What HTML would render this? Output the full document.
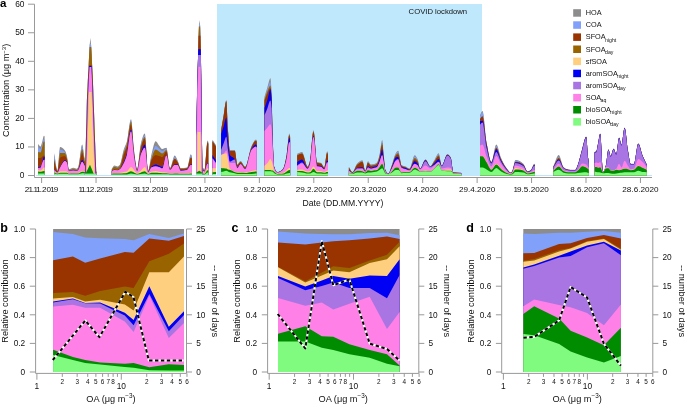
<!DOCTYPE html>
<html><head><meta charset="utf-8"><style>
html,body{margin:0;padding:0;background:#fff;}
body{width:685px;height:404px;position:relative;overflow:hidden;font-family:"Liberation Sans", sans-serif;}
svg text{font-family:"Liberation Sans", sans-serif;}
svg{will-change:transform;}
</style></head><body>
<svg width="685" height="404" viewBox="0 0 685 404" style="position:absolute;left:0;top:0">
<rect x="217" y="4" width="265" height="171.5" fill="#c0e8fc"/>
<rect x="38" y="175" width="614" height="1" fill="#bfe6f8"/>
<path d="M38.1,175.6 L38.1,144 C38.9,144.87 39.7,146.6 40.5,146.6 C41,146.6 41.5,144.01 42,142.5 C42.67,140.49 43.33,135.7 44,135.7 C44.2,135.7 44.4,136.23 44.6,136.5 L44.6,175.6 Z" fill="#8c8c8c"/>
<path d="M38.1,175.6 L38.1,146.6 C38.9,147.4 39.7,149 40.5,149 C41,149 41.5,146.42 42,145 C42.67,143.11 43.33,138.9 44,138.9 C44.2,138.9 44.4,139.3 44.6,139.5 L44.6,175.6 Z" fill="#80a0fa"/>
<path d="M38.1,175.6 L38.1,152 C38.9,152.2 39.7,152.6 40.5,152.6 C41,152.6 41.5,149.6 42,148 C42.67,145.87 43.33,141.3 44,141.3 C44.2,141.3 44.4,141.77 44.6,142 L44.6,175.6 Z" fill="#996300"/>
<path d="M38.1,175.6 L38.1,157.9 C38.9,157.93 39.7,158 40.5,158 C41,158 41.5,157.35 42,157 C42.67,156.53 43.33,155.5 44,155.5 C44.2,155.5 44.4,155.63 44.6,155.7 L44.6,175.6 Z" fill="#993300"/>
<path d="M38.1,175.6 L38.1,167.4 C38.9,167.2 39.7,167.19 40.5,166.8 C41,166.56 41.5,164.4 42,163 C42.67,161.14 43.33,156.7 44,156.7 C44.2,156.7 44.4,156.9 44.6,157 L44.6,175.6 Z" fill="#0000f5"/>
<path d="M38.1,175.6 L38.1,168 C38.9,167.83 39.7,167.83 40.5,167.5 C41,167.29 41.5,164.62 42,163.5 C42.67,162.01 43.33,159.7 44,159.7 C44.2,159.7 44.4,159.9 44.6,160 L44.6,175.6 Z" fill="#a875e3"/>
<path d="M38.1,175.6 L38.1,168 C38.9,168.2 39.7,168.6 40.5,168.6 C41,168.6 41.5,165.27 42,164 C42.67,162.3 43.33,159.7 44,159.7 C44.2,159.7 44.4,159.9 44.6,160 L44.6,175.6 Z" fill="#ff80e6"/>
<path d="M38.1,175.6 L38.1,169.8 C38.9,170 39.7,170.4 40.5,170.4 C41,170.4 41.5,169.88 42,169.5 C42.67,169 43.33,167.4 44,167.4 C44.2,167.4 44.4,167.47 44.6,167.5 L44.6,175.6 Z" fill="#ffcf80"/>
<path d="M38.1,175.6 L38.1,171.6 C38.9,171.67 39.7,171.8 40.5,171.8 C41,171.8 41.5,171.61 42,171.5 C42.67,171.35 43.33,171 44,171 C44.2,171 44.4,171 44.6,171 L44.6,175.6 Z" fill="#008c00"/>
<path d="M38.1,175.6 L38.1,173.5 C38.9,173.5 39.7,173.5 40.5,173.5 C41,173.5 41.5,173.5 42,173.5 C42.67,173.5 43.33,173.5 44,173.5 C44.2,173.5 44.4,173.5 44.6,173.5 L44.6,175.6 Z" fill="#80fb80"/>
<path d="M54.2,175.6 L54.2,152.9 C55.3,158.83 56.4,170.7 57.5,170.7 C58.37,170.7 59.23,147.1 60.1,147.1 C61.7,147.1 63.3,148.49 64.9,150.4 C65.57,151.2 66.23,153.19 66.9,155.8 C67.53,158.28 68.17,169.2 68.8,169.2 C70.3,169.2 71.8,167.7 73.3,167.7 C74.47,167.7 75.63,168.7 76.8,168.7 C77.3,168.7 77.8,167.69 78.3,166.7 C79.6,164.13 80.9,144.4 82.2,144.4 C83.03,144.4 83.87,156.48 84.7,158.3 C88.6,166.84 92.5,167.1 96.4,171.5 L96.4,175.6 Z" fill="#8c8c8c"/>
<path d="M54.2,175.6 L54.2,153.9 C55.3,159.6 56.4,171 57.5,171 C58.37,171 59.23,149.7 60.1,149.7 C61.7,149.7 63.3,150.53 64.9,151.9 C65.57,152.47 66.23,154.53 66.9,157 C67.53,159.35 68.17,169.7 68.8,169.7 C70.3,169.7 71.8,168.7 73.3,168.7 C74.47,168.7 75.63,169.4 76.8,169.4 C77.3,169.4 77.8,168.44 78.3,167.5 C79.6,165.05 80.9,145.9 82.2,145.9 C83.03,145.9 83.87,157.78 84.7,159.5 C88.6,167.55 92.5,167.7 96.4,171.8 L96.4,175.6 Z" fill="#80a0fa"/>
<path d="M54.2,175.6 L54.2,158.8 C55.3,162.93 56.4,171.2 57.5,171.2 C58.37,171.2 59.23,152.9 60.1,152.9 C61.7,152.9 63.3,152.9 64.9,152.9 C65.57,152.9 66.23,155.57 66.9,158 C67.53,160.31 68.17,170 68.8,170 C70.3,170 71.8,169 73.3,169 C74.47,169 75.63,169.7 76.8,169.7 C77.3,169.7 77.8,168.84 78.3,168 C79.6,165.81 80.9,148.9 82.2,148.9 C83.03,148.9 83.87,159.46 84.7,161 C88.6,168.19 92.5,168.33 96.4,172 L96.4,175.6 Z" fill="#996300"/>
<path d="M54.2,175.6 L54.2,160.8 C55.3,164.37 56.4,171.5 57.5,171.5 C58.37,171.5 59.23,158.36 60.1,157.8 C61.7,156.76 63.3,156.3 64.9,156.3 C65.57,156.3 66.23,157.81 66.9,159.5 C67.53,161.1 68.17,170.7 68.8,170.7 C70.3,170.7 71.8,170.2 73.3,170.2 C74.47,170.2 75.63,170.6 76.8,170.6 C77.3,170.6 77.8,170.07 78.3,169.5 C79.6,168.03 80.9,152.9 82.2,152.9 C83.03,152.9 83.87,161.17 84.7,162.5 C88.6,168.73 92.5,169.03 96.4,172.3 L96.4,175.6 Z" fill="#993300"/>
<path d="M54.2,175.6 L54.2,169.7 C55.3,170.57 56.4,172.3 57.5,172.3 C58.37,172.3 59.23,168.66 60.1,167.2 C61.7,164.5 63.3,160.3 64.9,160.3 C65.57,160.3 66.23,161.03 66.9,162 C67.53,162.92 68.17,171 68.8,171 C70.3,171 71.8,170.5 73.3,170.5 C74.47,170.5 75.63,170.9 76.8,170.9 C77.3,170.9 77.8,170.45 78.3,170 C79.6,168.84 80.9,159.8 82.2,159.8 C83.03,159.8 83.87,164.07 84.7,165 C88.6,169.35 92.5,170.07 96.4,172.6 L96.4,175.6 Z" fill="#0000f5"/>
<path d="M54.2,175.6 L54.2,169.9 C55.3,170.73 56.4,172.4 57.5,172.4 C58.37,172.4 59.23,169.08 60.1,167.7 C61.7,165.15 63.3,161 64.9,161 C65.57,161 66.23,161.64 66.9,162.5 C67.53,163.32 68.17,171.1 68.8,171.1 C70.3,171.1 71.8,170.6 73.3,170.6 C74.47,170.6 75.63,171 76.8,171 C77.3,171 77.8,170.59 78.3,170.2 C79.6,169.18 80.9,161.8 82.2,161.8 C83.03,161.8 83.87,164.7 84.7,165.5 C88.6,169.25 92.5,170.37 96.4,172.8 L96.4,175.6 Z" fill="#a875e3"/>
<path d="M54.2,175.6 L54.2,170 C55.3,170.83 56.4,172.5 57.5,172.5 C58.37,172.5 59.23,169.1 60.1,167.7 C61.7,165.12 63.3,161 64.9,161 C65.57,161 66.23,161.8 66.9,162.8 C67.53,163.75 68.17,171.2 68.8,171.2 C70.3,171.2 71.8,170.7 73.3,170.7 C74.47,170.7 75.63,171 76.8,171 C77.3,171 77.8,170.65 78.3,170.3 C79.6,169.39 80.9,161.8 82.2,161.8 C83.03,161.8 83.87,165.18 84.7,166 C88.6,169.83 92.5,170.67 96.4,173 L96.4,175.6 Z" fill="#ff80e6"/>
<path d="M54.2,175.6 L54.2,171.7 C55.3,172.23 56.4,173.3 57.5,173.3 C58.37,173.3 59.23,171.2 60.1,171.2 C61.7,171.2 63.3,171.2 64.9,171.2 C65.57,171.2 66.23,171.32 66.9,171.5 C67.53,171.67 68.17,173.5 68.8,173.5 C70.3,173.5 71.8,173.2 73.3,173.2 C74.47,173.2 75.63,173.2 76.8,173.2 C77.3,173.2 77.8,173.1 78.3,173 C79.6,172.74 80.9,170.7 82.2,170.7 C83.03,170.7 83.87,170.88 84.7,171 C88.6,171.57 92.5,172.67 96.4,173.5 L96.4,175.6 Z" fill="#ffcf80"/>
<path d="M54.2,175.6 L54.2,172.5 C55.3,172.87 56.4,173.6 57.5,173.6 C58.37,173.6 59.23,172.7 60.1,172.7 C61.7,172.7 63.3,172.7 64.9,172.7 C65.57,172.7 66.23,172.74 66.9,172.8 C67.53,172.86 68.17,173.8 68.8,173.8 C70.3,173.8 71.8,173.6 73.3,173.6 C74.47,173.6 75.63,173.6 76.8,173.6 C77.3,173.6 77.8,173.55 78.3,173.5 C79.6,173.36 80.9,171.7 82.2,171.7 C83.03,171.7 83.87,171.89 84.7,172 C88.6,172.53 92.5,173.33 96.4,174 L96.4,175.6 Z" fill="#008c00"/>
<path d="M54.2,175.6 L54.2,173.5 C55.3,173.73 56.4,174.2 57.5,174.2 C58.37,174.2 59.23,173.7 60.1,173.7 C61.7,173.7 63.3,173.7 64.9,173.7 C65.57,173.7 66.23,173.7 66.9,173.7 C67.53,173.7 68.17,174.2 68.8,174.2 C70.3,174.2 71.8,174.2 73.3,174.2 C74.47,174.2 75.63,174.2 76.8,174.2 C77.3,174.2 77.8,174.2 78.3,174.2 C79.6,174.2 80.9,173.2 82.2,173.2 C83.03,173.2 83.87,173.41 84.7,173.5 C88.6,173.9 92.5,174.17 96.4,174.5 L96.4,175.6 Z" fill="#80fb80"/>
<path d="M111.8,175.6 L111.8,168.7 C112.7,167.67 113.6,165.6 114.5,165.6 C115.53,165.6 116.57,166.4 117.6,166.4 C118.37,166.4 119.13,165.65 119.9,164.8 C121.2,163.35 122.5,153.48 123.8,149.5 C124.83,146.33 125.87,145.13 126.9,141.6 C128.27,136.93 129.63,119.2 131,119.2 C132,119.2 133,142.5 134,150 C135.07,158 136.13,168.8 137.2,168.8 C138.47,168.8 139.73,147.63 141,143 C142.27,138.37 143.53,133.5 144.8,133.5 C145.93,133.5 147.07,170.5 148.2,170.5 C149.33,170.5 150.47,158.1 151.6,153.8 C152.97,148.62 154.33,141.3 155.7,141.3 C156.8,141.3 157.9,144.23 159,145.5 C160.1,146.77 161.2,149 162.3,149 C163.67,149 165.03,147.8 166.4,147.8 C167.6,147.8 168.8,168 170,168 C171.57,168 173.13,155.5 174.7,155.5 C175.67,155.5 176.63,158.47 177.6,160.4 C178.63,162.46 179.67,168 180.7,168 C182.87,168 185.03,167.83 187.2,167.4 C188.4,167.16 189.6,154.3 190.8,154.3 C191.17,154.3 191.53,155.43 191.9,156 L191.9,175.6 Z" fill="#8c8c8c"/>
<path d="M111.8,175.6 L111.8,169.2 C112.7,168.2 113.6,166.2 114.5,166.2 C115.53,166.2 116.57,167 117.6,167 C118.37,167 119.13,166.3 119.9,165.5 C121.2,164.14 122.5,154.93 123.8,151 C124.83,147.87 125.87,146.57 126.9,143 C128.27,138.27 129.63,120.4 131,120.4 C132,120.4 133,143.67 134,151 C135.07,158.81 136.13,169.2 137.2,169.2 C138.47,169.2 139.73,149 141,144.5 C142.27,140 143.53,135.2 144.8,135.2 C145.93,135.2 147.07,170.8 148.2,170.8 C149.33,170.8 150.47,159.57 151.6,156 C152.97,151.69 154.33,146 155.7,146 C156.8,146 157.9,147.67 159,148.5 C160.1,149.33 161.2,151 162.3,151 C163.67,151 165.03,149 166.4,149 C167.6,149 168.8,168.3 170,168.3 C171.57,168.3 173.13,156.7 174.7,156.7 C175.67,156.7 176.63,159.5 177.6,161.3 C178.63,163.22 179.67,168.3 180.7,168.3 C182.87,168.3 185.03,168.16 187.2,167.8 C188.4,167.6 189.6,155 190.8,155 C191.17,155 191.53,156.33 191.9,157 L191.9,175.6 Z" fill="#80a0fa"/>
<path d="M111.8,175.6 L111.8,169.5 C112.7,168.57 113.6,166.7 114.5,166.7 C115.53,166.7 116.57,167.5 117.6,167.5 C118.37,167.5 119.13,166.79 119.9,166 C121.2,164.65 122.5,156.32 123.8,152.5 C124.83,149.46 125.87,148.08 126.9,144.5 C128.27,139.77 129.63,121.8 131,121.8 C132,121.8 133,144.89 134,152 C135.07,159.58 136.13,169.5 137.2,169.5 C138.47,169.5 139.73,150.37 141,146 C142.27,141.63 143.53,136.9 144.8,136.9 C145.93,136.9 147.07,171 148.2,171 C149.33,171 150.47,161.05 151.6,158 C152.97,154.32 154.33,149.6 155.7,149.6 C156.8,149.6 157.9,150.85 159,151.5 C160.1,152.15 161.2,153.5 162.3,153.5 C163.67,153.5 165.03,150 166.4,150 C167.6,150 168.8,168.6 170,168.6 C171.57,168.6 173.13,158.5 174.7,158.5 C175.67,158.5 176.63,160.36 177.6,161.8 C178.63,163.34 179.67,168.6 180.7,168.6 C182.87,168.6 185.03,168.46 187.2,168.1 C188.4,167.9 189.6,157.3 190.8,157.3 C191.17,157.3 191.53,157.57 191.9,157.7 L191.9,175.6 Z" fill="#996300"/>
<path d="M111.8,175.6 L111.8,171 C112.7,170.5 113.6,169.5 114.5,169.5 C115.53,169.5 116.57,169.8 117.6,169.8 C118.37,169.8 119.13,169.2 119.9,168.5 C121.2,167.31 122.5,158.82 123.8,155 C124.83,151.96 125.87,150.54 126.9,147 C128.27,142.31 129.63,125 131,125 C132,125 133,146.66 134,153.5 C135.07,160.79 136.13,170.5 137.2,170.5 C138.47,170.5 139.73,152.29 141,148 C142.27,143.71 143.53,139 144.8,139 C145.93,139 147.07,171.5 148.2,171.5 C149.33,171.5 150.47,162.06 151.6,160 C152.97,157.51 154.33,155 155.7,155 C156.8,155 157.9,155.67 159,156 C160.1,156.33 161.2,157 162.3,157 C163.67,157 165.03,151.5 166.4,151.5 C167.6,151.5 168.8,169.2 170,169.2 C171.57,169.2 173.13,159 174.7,159 C175.67,159 176.63,161.02 177.6,162.5 C178.63,164.08 179.67,169 180.7,169 C182.87,169 185.03,168.86 187.2,168.5 C188.4,168.3 189.6,158 190.8,158 C191.17,158 191.53,158.33 191.9,158.5 L191.9,175.6 Z" fill="#993300"/>
<path d="M111.8,175.6 L111.8,171.3 C112.7,170.8 113.6,169.8 114.5,169.8 C115.53,169.8 116.57,170.2 117.6,170.2 C118.37,170.2 119.13,169.59 119.9,169 C121.2,168 122.5,164.84 123.8,162 C124.83,159.74 125.87,157.28 126.9,153.5 C128.27,148.5 129.63,129.8 131,129.8 C132,129.8 133,149.88 134,156 C135.07,162.53 136.13,171 137.2,171 C138.47,171 139.73,156.85 141,153 C142.27,149.15 143.53,144.5 144.8,144.5 C145.93,144.5 147.07,172 148.2,172 C149.33,172 150.47,167.4 151.6,166.5 C152.97,165.42 154.33,164.4 155.7,164.4 C156.8,164.4 157.9,165.08 159,165.5 C160.1,165.92 161.2,167 162.3,167 C163.67,167 165.03,155 166.4,155 C167.6,155 168.8,169.8 170,169.8 C171.57,169.8 173.13,164.4 174.7,164.4 C175.67,164.4 176.63,164.44 177.6,164.5 C178.63,164.57 179.67,170.5 180.7,170.5 C182.87,170.5 185.03,170.15 187.2,169.5 C188.4,169.14 189.6,164.4 190.8,164.4 C191.17,164.4 191.53,164.47 191.9,164.5 L191.9,175.6 Z" fill="#0000f5"/>
<path d="M111.8,175.6 L111.8,171.4 C112.7,170.9 113.6,169.9 114.5,169.9 C115.53,169.9 116.57,170.3 117.6,170.3 C118.37,170.3 119.13,169.74 119.9,169.2 C121.2,168.29 122.5,165.58 123.8,163 C124.83,160.95 125.87,158.61 126.9,155 C128.27,150.22 129.63,131.5 131,131.5 C132,131.5 133,151.15 134,157 C135.07,163.24 136.13,171.2 137.2,171.2 C138.47,171.2 139.73,157.04 141,154 C142.27,150.96 143.53,147.8 144.8,147.8 C145.93,147.8 147.07,172.2 148.2,172.2 C149.33,172.2 150.47,167.82 151.6,167.3 C152.97,166.67 154.33,166.2 155.7,166.2 C156.8,166.2 157.9,166.66 159,167 C160.1,167.34 161.2,168.4 162.3,168.4 C163.67,168.4 165.03,155.4 166.4,155.4 C167.6,155.4 168.8,170 170,170 C171.57,170 173.13,165 174.7,165 C175.67,165 176.63,165 177.6,165 C178.63,165 179.67,170.8 180.7,170.8 C182.87,170.8 185.03,170.45 187.2,169.8 C188.4,169.44 189.6,165 190.8,165 C191.17,165 191.53,165 191.9,165 L191.9,175.6 Z" fill="#a875e3"/>
<path d="M111.8,175.6 L111.8,171.5 C112.7,171 113.6,170 114.5,170 C115.53,170 116.57,170.4 117.6,170.4 C118.37,170.4 119.13,169.83 119.9,169.3 C121.2,168.4 122.5,165.9 123.8,163.4 C124.83,161.41 125.87,159.03 126.9,155.4 C128.27,150.6 129.63,131.5 131,131.5 C132,131.5 133,151.12 134,157 C135.07,163.27 136.13,171.3 137.2,171.3 C138.47,171.3 139.73,157.69 141,154.5 C142.27,151.31 143.53,147.8 144.8,147.8 C145.93,147.8 147.07,172.3 148.2,172.3 C149.33,172.3 150.47,167.98 151.6,167.5 C152.97,166.92 154.33,166.5 155.7,166.5 C156.8,166.5 157.9,166.97 159,167.3 C160.1,167.63 161.2,168.6 162.3,168.6 C163.67,168.6 165.03,155.5 166.4,155.5 C167.6,155.5 168.8,170 170,170 C171.57,170 173.13,165 174.7,165 C175.67,165 176.63,165 177.6,165 C178.63,165 179.67,170.9 180.7,170.9 C182.87,170.9 185.03,170.55 187.2,169.9 C188.4,169.54 189.6,165 190.8,165 C191.17,165 191.53,165.2 191.9,165.3 L191.9,175.6 Z" fill="#ff80e6"/>
<path d="M111.8,175.6 L111.8,173 C112.7,172.97 113.6,172.9 114.5,172.9 C115.53,172.9 116.57,173 117.6,173 C118.37,173 119.13,172.89 119.9,172.8 C121.2,172.65 122.5,172.23 123.8,172 C124.83,171.81 125.87,171.78 126.9,171.5 C128.27,171.13 129.63,167.1 131,167.1 C132,167.1 133,169.05 134,170 C135.07,171.02 136.13,173 137.2,173 C138.47,173 139.73,171.46 141,170.5 C142.27,169.54 143.53,167.1 144.8,167.1 C145.93,167.1 147.07,173.5 148.2,173.5 C149.33,173.5 150.47,171.73 151.6,171.5 C152.97,171.22 154.33,171 155.7,171 C156.8,171 157.9,171.59 159,171.8 C160.1,172.01 161.2,172.22 162.3,172.3 C163.67,172.4 165.03,172.39 166.4,172.5 C167.6,172.6 168.8,173.3 170,173.3 C171.57,173.3 173.13,173 174.7,173 C175.67,173 176.63,173 177.6,173 C178.63,173 179.67,173.3 180.7,173.3 C182.87,173.3 185.03,173.3 187.2,173.3 C188.4,173.3 189.6,172.8 190.8,172.8 C191.17,172.8 191.53,172.8 191.9,172.8 L191.9,175.6 Z" fill="#ffcf80"/>
<path d="M111.8,175.6 L111.8,173.8 C112.7,173.7 113.6,173.5 114.5,173.5 C115.53,173.5 116.57,173.5 117.6,173.5 C118.37,173.5 119.13,173.5 119.9,173.5 C121.2,173.5 122.5,173.39 123.8,173.3 C124.83,173.23 125.87,173.16 126.9,173 C128.27,172.79 129.63,171.3 131,171.3 C132,171.3 133,172.1 134,172.5 C135.07,172.93 136.13,173.8 137.2,173.8 C138.47,173.8 139.73,172.92 141,172.5 C142.27,172.08 143.53,171.3 144.8,171.3 C145.93,171.3 147.07,174 148.2,174 C149.33,174 150.47,172.8 151.6,172.8 C152.97,172.8 154.33,172.8 155.7,172.8 C156.8,172.8 157.9,172.93 159,173 C160.1,173.07 161.2,173.16 162.3,173.2 C163.67,173.25 165.03,173.24 166.4,173.3 C167.6,173.35 168.8,173.8 170,173.8 C171.57,173.8 173.13,173.5 174.7,173.5 C175.67,173.5 176.63,173.5 177.6,173.5 C178.63,173.5 179.67,173.8 180.7,173.8 C182.87,173.8 185.03,173.8 187.2,173.8 C188.4,173.8 189.6,173.5 190.8,173.5 C191.17,173.5 191.53,173.5 191.9,173.5 L191.9,175.6 Z" fill="#008c00"/>
<path d="M111.8,175.6 L111.8,174.5 C112.7,174.5 113.6,174.5 114.5,174.5 C115.53,174.5 116.57,174.5 117.6,174.5 C118.37,174.5 119.13,174.5 119.9,174.5 C121.2,174.5 122.5,174.5 123.8,174.5 C124.83,174.5 125.87,174.5 126.9,174.5 C128.27,174.5 129.63,173.5 131,173.5 C132,173.5 133,173.84 134,174 C135.07,174.17 136.13,174.5 137.2,174.5 C138.47,174.5 139.73,174.17 141,174 C142.27,173.83 143.53,173.5 144.8,173.5 C145.93,173.5 147.07,174.5 148.2,174.5 C149.33,174.5 150.47,174.3 151.6,174.3 C152.97,174.3 154.33,174.3 155.7,174.3 C156.8,174.3 157.9,174.3 159,174.3 C160.1,174.3 161.2,174.3 162.3,174.3 C163.67,174.3 165.03,174.3 166.4,174.3 C167.6,174.3 168.8,174.5 170,174.5 C171.57,174.5 173.13,174.5 174.7,174.5 C175.67,174.5 176.63,174.5 177.6,174.5 C178.63,174.5 179.67,174.5 180.7,174.5 C182.87,174.5 185.03,174.5 187.2,174.5 C188.4,174.5 189.6,174.5 190.8,174.5 C191.17,174.5 191.53,174.5 191.9,174.5 L191.9,175.6 Z" fill="#80fb80"/>
<path d="M196,175.6 L196,172 C198.4,170.67 200.8,168 203.2,168 C203.63,168 204.07,170.2 204.5,170.2 C205.53,170.2 206.57,140.5 207.6,140.5 C207.83,140.5 208.07,141.5 208.3,142 L208.3,175.6 Z" fill="#8c8c8c"/>
<path d="M196,175.6 L196,172.3 C198.4,171.03 200.8,168.5 203.2,168.5 C203.63,168.5 204.07,170.4 204.5,170.4 C205.53,170.4 206.57,141.2 207.6,141.2 C207.83,141.2 208.07,142.2 208.3,142.7 L208.3,175.6 Z" fill="#80a0fa"/>
<path d="M196,175.6 L196,172.5 C198.4,171.33 200.8,169 203.2,169 C203.63,169 204.07,170.6 204.5,170.6 C205.53,170.6 206.57,142 207.6,142 C207.83,142 208.07,143 208.3,143.5 L208.3,175.6 Z" fill="#996300"/>
<path d="M196,175.6 L196,172.7 C198.4,171.8 200.8,170 203.2,170 C203.63,170 204.07,171.2 204.5,171.2 C205.53,171.2 206.57,142.5 207.6,142.5 C207.83,142.5 208.07,143.5 208.3,144 L208.3,175.6 Z" fill="#993300"/>
<path d="M196,175.6 L196,173 C198.4,172.17 200.8,170.5 203.2,170.5 C203.63,170.5 204.07,171.5 204.5,171.5 C205.53,171.5 206.57,163 207.6,163 C207.83,163 208.07,163.33 208.3,163.5 L208.3,175.6 Z" fill="#0000f5"/>
<path d="M196,175.6 L196,173.1 C198.4,172.33 200.8,170.8 203.2,170.8 C203.63,170.8 204.07,171.6 204.5,171.6 C205.53,171.6 206.57,163.5 207.6,163.5 C207.83,163.5 208.07,163.83 208.3,164 L208.3,175.6 Z" fill="#a875e3"/>
<path d="M196,175.6 L196,173.2 C198.4,172.47 200.8,171 203.2,171 C203.63,171 204.07,171.7 204.5,171.7 C205.53,171.7 206.57,163.8 207.6,163.8 C207.83,163.8 208.07,164.13 208.3,164.3 L208.3,175.6 Z" fill="#ff80e6"/>
<path d="M196,175.6 L196,173.8 C198.4,173.37 200.8,172.5 203.2,172.5 C203.63,172.5 204.07,173 204.5,173 C205.53,173 206.57,168.2 207.6,168.2 C207.83,168.2 208.07,168.4 208.3,168.5 L208.3,175.6 Z" fill="#ffcf80"/>
<path d="M196,175.6 L196,174.2 C198.4,173.97 200.8,173.5 203.2,173.5 C203.63,173.5 204.07,173.8 204.5,173.8 C205.53,173.8 206.57,170.2 207.6,170.2 C207.83,170.2 208.07,170.4 208.3,170.5 L208.3,175.6 Z" fill="#008c00"/>
<path d="M196,175.6 L196,174.6 C198.4,174.57 200.8,174.5 203.2,174.5 C203.63,174.5 204.07,174.5 204.5,174.5 C205.53,174.5 206.57,172.5 207.6,172.5 C207.83,172.5 208.07,172.5 208.3,172.5 L208.3,175.6 Z" fill="#80fb80"/>
<path d="M212.5,175.6 L212.5,139.7 L216,145.3 L216,175.6 Z" fill="#8c8c8c"/>
<path d="M212.5,175.6 L212.5,140.5 L216,146 L216,175.6 Z" fill="#80a0fa"/>
<path d="M212.5,175.6 L212.5,141 L216,146.5 L216,175.6 Z" fill="#996300"/>
<path d="M212.5,175.6 L212.5,141.4 L216,147 L216,175.6 Z" fill="#993300"/>
<path d="M212.5,175.6 L212.5,155 L216,160.4 L216,175.6 Z" fill="#0000f5"/>
<path d="M212.5,175.6 L212.5,158 L216,163 L216,175.6 Z" fill="#a875e3"/>
<path d="M212.5,175.6 L212.5,158.5 L216,163.5 L216,175.6 Z" fill="#ff80e6"/>
<path d="M212.5,175.6 L212.5,168.2 L216,168.2 L216,175.6 Z" fill="#ffcf80"/>
<path d="M212.5,175.6 L212.5,172.2 L216,172 L216,175.6 Z" fill="#008c00"/>
<path d="M212.5,175.6 L212.5,174 L216,174 L216,175.6 Z" fill="#80fb80"/>
<path d="M221.1,175.6 L221.1,129.7 C222,124.47 222.9,119.11 223.8,114 C224.63,109.26 225.47,100.1 226.3,100.1 C226.87,100.1 227.43,122.29 228,130 C228.6,138.16 229.2,149.9 229.8,149.9 C231.43,149.9 233.07,149.9 234.7,149.9 C235.6,149.9 236.5,164.4 237.4,164.4 C238.43,164.4 239.47,161 240.5,161 C242.07,161 243.63,166.6 245.2,166.6 C247.37,166.6 249.53,150.1 251.7,145.8 C253.13,142.96 254.57,139.4 256,139.4 C256.23,139.4 256.47,140.13 256.7,140.5 L256.7,175.6 Z" fill="#8c8c8c"/>
<path d="M221.1,175.6 L221.1,130 C222,124.83 222.9,119.6 223.8,114.5 C224.63,109.78 225.47,100.5 226.3,100.5 C226.87,100.5 227.43,122.8 228,130.5 C228.6,138.65 229.2,150.3 229.8,150.3 C231.43,150.3 233.07,150.3 234.7,150.3 C235.6,150.3 236.5,164.7 237.4,164.7 C238.43,164.7 239.47,161.4 240.5,161.4 C242.07,161.4 243.63,166.8 245.2,166.8 C247.37,166.8 249.53,150.48 251.7,146.3 C253.13,143.53 254.57,140.1 256,140.1 C256.23,140.1 256.47,140.83 256.7,141.2 L256.7,175.6 Z" fill="#80a0fa"/>
<path d="M221.1,175.6 L221.1,130.5 C222,125.33 222.9,120.1 223.8,115 C224.63,110.28 225.47,101 226.3,101 C226.87,101 227.43,123.33 228,131 C228.6,139.12 229.2,150.7 229.8,150.7 C231.43,150.7 233.07,150.7 234.7,150.7 C235.6,150.7 236.5,165 237.4,165 C238.43,165 239.47,161.8 240.5,161.8 C242.07,161.8 243.63,167 245.2,167 C247.37,167 249.53,151.01 251.7,146.8 C253.13,144.01 254.57,140.5 256,140.5 C256.23,140.5 256.47,141.23 256.7,141.6 L256.7,175.6 Z" fill="#996300"/>
<path d="M221.1,175.6 L221.1,131 C222,125.83 222.9,120.6 223.8,115.5 C224.63,110.78 225.47,101.5 226.3,101.5 C226.87,101.5 227.43,123.88 228,131.5 C228.6,139.57 229.2,151 229.8,151 C231.43,151 233.07,151 234.7,151 C235.6,151 236.5,165.3 237.4,165.3 C238.43,165.3 239.47,162.2 240.5,162.2 C242.07,162.2 243.63,167.2 245.2,167.2 C247.37,167.2 249.53,151.16 251.7,147 C253.13,144.25 254.57,140.8 256,140.8 C256.23,140.8 256.47,141.6 256.7,142 L256.7,175.6 Z" fill="#993300"/>
<path d="M221.1,175.6 L221.1,133.9 C222,131.27 222.9,128.82 223.8,126 C224.63,123.39 225.47,117.6 226.3,117.6 C226.87,117.6 227.43,134.27 228,140 C228.6,146.06 229.2,153.64 229.8,154.7 C231.43,157.6 233.07,156.56 234.7,158.9 C235.6,160.19 236.5,167.5 237.4,167.5 C238.43,167.5 239.47,163.7 240.5,163.7 C242.07,163.7 243.63,168.7 245.2,168.7 C247.37,168.7 249.53,151.86 251.7,148.7 C253.13,146.61 254.57,144.4 256,144.4 C256.23,144.4 256.47,145.13 256.7,145.5 L256.7,175.6 Z" fill="#0000f5"/>
<path d="M221.1,175.6 L221.1,149.9 C222,147.6 222.9,145.28 223.8,143 C224.63,140.89 225.47,136.7 226.3,136.7 C226.87,136.7 227.43,145.97 228,150 C228.6,154.26 229.2,161.7 229.8,161.7 C231.43,161.7 233.07,159.6 234.7,159.6 C235.6,159.6 236.5,168 237.4,168 C238.43,168 239.47,164 240.5,164 C242.07,164 243.63,169 245.2,169 C247.37,169 249.53,151.85 251.7,149.5 C253.13,147.94 254.57,146.5 256,146.5 C256.23,146.5 256.47,147.17 256.7,147.5 L256.7,175.6 Z" fill="#a875e3"/>
<path d="M221.1,175.6 L221.1,154.7 C222,154.3 222.9,154.09 223.8,153.5 C224.63,152.96 225.47,150.5 226.3,150.5 C226.87,150.5 227.43,153.12 228,155 C228.6,156.99 229.2,163 229.8,163 C231.43,163 233.07,163 234.7,163 C235.6,163 236.5,168.3 237.4,168.3 C238.43,168.3 239.47,164.2 240.5,164.2 C242.07,164.2 243.63,169.2 245.2,169.2 C247.37,169.2 249.53,152.48 251.7,150 C253.13,148.36 254.57,146.8 256,146.8 C256.23,146.8 256.47,147.47 256.7,147.8 L256.7,175.6 Z" fill="#ff80e6"/>
<path d="M221.1,175.6 L221.1,155 C222,154.67 222.9,154.29 223.8,154 C224.63,153.73 225.47,153.3 226.3,153.3 C226.87,153.3 227.43,157.55 228,160 C228.6,162.59 229.2,167.9 229.8,168.6 C231.43,170.5 233.07,170.9 234.7,171.4 C235.6,171.68 236.5,172 237.4,172 C238.43,172 239.47,172 240.5,172 C242.07,172 243.63,172.5 245.2,172.5 C247.37,172.5 249.53,171.44 251.7,171 C253.13,170.71 254.57,170.2 256,170.2 C256.23,170.2 256.47,170.2 256.7,170.2 L256.7,175.6 Z" fill="#ffcf80"/>
<path d="M221.1,175.6 L221.1,167.9 C222,168.03 222.9,168.18 223.8,168.3 C224.63,168.41 225.47,168.43 226.3,168.6 C226.87,168.72 227.43,169.36 228,169.5 C228.6,169.65 229.2,169.66 229.8,169.8 C231.43,170.17 233.07,171.43 234.7,172 C235.6,172.32 236.5,172.8 237.4,172.8 C238.43,172.8 239.47,172.8 240.5,172.8 C242.07,172.8 243.63,173 245.2,173 C247.37,173 249.53,172.28 251.7,172 C253.13,171.81 254.57,171.5 256,171.5 C256.23,171.5 256.47,171.5 256.7,171.5 L256.7,175.6 Z" fill="#008c00"/>
<path d="M221.1,175.6 L221.1,172.1 C222,171.9 222.9,171.74 223.8,171.5 C224.63,171.28 225.47,170.7 226.3,170.7 C226.87,170.7 227.43,171.24 228,171.5 C228.6,171.77 229.2,172.12 229.8,172.3 C231.43,172.78 233.07,172.92 234.7,173.3 C235.6,173.51 236.5,174 237.4,174 C238.43,174 239.47,174 240.5,174 C242.07,174 243.63,174 245.2,174 C247.37,174 249.53,174 251.7,174 C253.13,174 254.57,173.5 256,173.5 C256.23,173.5 256.47,173.5 256.7,173.5 L256.7,175.6 Z" fill="#80fb80"/>
<path d="M264.5,175.6 L264.5,96.8 C265.5,93.53 266.5,90.15 267.5,87 C268.47,83.96 269.43,78.2 270.4,78.2 C270.8,78.2 271.2,84.88 271.6,92 C272,99.12 272.4,127.74 272.8,139.1 C273.2,150.46 273.6,164.24 274,165.8 C275.13,170.22 276.27,172 277.4,172 C278.27,172 279.13,171.66 280,171.3 C281.13,170.83 282.27,169.79 283.4,168 C284.53,166.21 285.67,160.07 286.8,153.7 C287.63,149.01 288.47,133.5 289.3,133.5 C289.57,133.5 289.83,135.17 290.1,136 L290.1,175.6 Z" fill="#8c8c8c"/>
<path d="M264.5,175.6 L264.5,98.5 C265.5,95.33 266.5,91.74 267.5,89 C268.47,86.35 269.43,82 270.4,82 C270.8,82 271.2,87.67 271.6,94 C272,100.33 272.4,128.34 272.8,139.5 C273.2,150.66 273.6,164.46 274,166 C275.13,170.35 276.27,172.1 277.4,172.1 C278.27,172.1 279.13,171.75 280,171.4 C281.13,170.94 282.27,169.94 283.4,168.2 C284.53,166.46 285.67,160.46 286.8,154.2 C287.63,149.59 288.47,134.2 289.3,134.2 C289.57,134.2 289.83,135.87 290.1,136.7 L290.1,175.6 Z" fill="#80a0fa"/>
<path d="M264.5,175.6 L264.5,99.5 C265.5,96.67 266.5,93.24 267.5,91 C268.47,88.83 269.43,85.6 270.4,85.6 C270.8,85.6 271.2,90.39 271.6,96 C272,101.61 272.4,129.05 272.8,140 C273.2,150.95 273.6,164.69 274,166.2 C275.13,170.48 276.27,172.2 277.4,172.2 C278.27,172.2 279.13,171.85 280,171.5 C281.13,171.04 282.27,170.09 283.4,168.4 C284.53,166.71 285.67,160.78 286.8,154.6 C287.63,150.05 288.47,134.8 289.3,134.8 C289.57,134.8 289.83,136.47 290.1,137.3 L290.1,175.6 Z" fill="#996300"/>
<path d="M264.5,175.6 L264.5,100.5 C265.5,98.17 266.5,95.59 267.5,93.5 C268.47,91.48 269.43,88 270.4,88 C270.8,88 271.2,92.31 271.6,97.5 C272,102.69 272.4,129.72 272.8,140.5 C273.2,151.28 273.6,164.91 274,166.4 C275.13,170.61 276.27,172.3 277.4,172.3 C278.27,172.3 279.13,171.95 280,171.6 C281.13,171.14 282.27,170.24 283.4,168.6 C284.53,166.96 285.67,161.13 286.8,155 C287.63,150.5 288.47,135.2 289.3,135.2 C289.57,135.2 289.83,136.87 290.1,137.7 L290.1,175.6 Z" fill="#993300"/>
<path d="M264.5,175.6 L264.5,107.9 C265.5,105.1 266.5,102.62 267.5,99.5 C268.47,96.48 269.43,89.3 270.4,89.3 C270.8,89.3 271.2,93.7 271.6,99 C272,104.3 272.4,132.7 272.8,143 C273.2,153.3 273.6,165.37 274,166.8 C275.13,170.85 276.27,172.5 277.4,172.5 C278.27,172.5 279.13,172.14 280,171.8 C281.13,171.35 282.27,170.51 283.4,169 C284.53,167.49 285.67,162.6 286.8,157 C287.63,152.89 288.47,137.7 289.3,137.7 C289.57,137.7 289.83,139.23 290.1,140 L290.1,175.6 Z" fill="#0000f5"/>
<path d="M264.5,175.6 L264.5,115.3 C265.5,112.87 266.5,110.51 267.5,108 C268.47,105.58 269.43,100.5 270.4,100.5 C270.8,100.5 271.2,103.81 271.6,108 C272,112.19 272.4,138.13 272.8,147 C273.2,155.87 273.6,165.86 274,167.2 C275.13,170.99 276.27,172.6 277.4,172.6 C278.27,172.6 279.13,172.24 280,171.9 C281.13,171.46 282.27,170.71 283.4,169.3 C284.53,167.89 285.67,163.05 286.8,158 C287.63,154.29 288.47,141.9 289.3,141.9 C289.57,141.9 289.83,143.3 290.1,144 L290.1,175.6 Z" fill="#a875e3"/>
<path d="M264.5,175.6 L264.5,131.1 C265.5,129.9 266.5,128.67 267.5,127.5 C268.47,126.37 269.43,124.2 270.4,124.2 C270.8,124.2 271.2,125.84 271.6,128 C272,130.16 272.4,143.5 272.8,150 C273.2,156.5 273.6,166.23 274,167.5 C275.13,171.1 276.27,172.7 277.4,172.7 C278.27,172.7 279.13,172.33 280,172 C281.13,171.56 282.27,170.86 283.4,169.5 C284.53,168.14 285.67,163.51 286.8,158.5 C287.63,154.82 288.47,142 289.3,142 C289.57,142 289.83,143.47 290.1,144.2 L290.1,175.6 Z" fill="#ff80e6"/>
<path d="M264.5,175.6 L264.5,165.8 C265.5,164.87 266.5,164.13 267.5,163 C268.47,161.91 269.43,158.9 270.4,158.9 C270.8,158.9 271.2,160.08 271.6,161 C272,161.92 272.4,163.46 272.8,165 C273.2,166.54 273.6,169.84 274,170.5 C275.13,172.38 276.27,173.5 277.4,173.5 C278.27,173.5 279.13,173.39 280,173.3 C281.13,173.19 282.27,173.08 283.4,172.8 C284.53,172.52 285.67,170.92 286.8,170 C287.63,169.32 288.47,168 289.3,168 C289.57,168 289.83,168 290.1,168 L290.1,175.6 Z" fill="#ffcf80"/>
<path d="M264.5,175.6 L264.5,170 C265.5,170 266.5,170 267.5,170 C268.47,170 269.43,170 270.4,170 C270.8,170 271.2,170.5 271.6,170.5 C272,170.5 272.4,170.5 272.8,170.5 C273.2,170.5 273.6,171.19 274,171.5 C275.13,172.38 276.27,173.9 277.4,173.9 C278.27,173.9 279.13,173.85 280,173.8 C281.13,173.74 282.27,173.67 283.4,173.5 C284.53,173.33 285.67,172.17 286.8,171.5 C287.63,171 288.47,170 289.3,170 C289.57,170 289.83,170 290.1,170 L290.1,175.6 Z" fill="#008c00"/>
<path d="M264.5,175.6 L264.5,171.3 C265.5,171.3 266.5,171.3 267.5,171.3 C268.47,171.3 269.43,171.3 270.4,171.3 C270.8,171.3 271.2,171.42 271.6,171.5 C272,171.58 272.4,171.64 272.8,171.8 C273.2,171.96 273.6,172.74 274,173 C275.13,173.74 276.27,174.5 277.4,174.5 C278.27,174.5 279.13,174.5 280,174.5 C281.13,174.5 282.27,174.5 283.4,174.5 C284.53,174.5 285.67,173.77 286.8,173.5 C287.63,173.3 288.47,173 289.3,173 C289.57,173 289.83,173 290.1,173 L290.1,175.6 Z" fill="#80fb80"/>
<path d="M297.2,175.6 L297.2,153.7 C298.8,153.13 300.4,152 302,152 C303.9,152 305.8,166.4 307.7,166.4 C308.47,166.4 309.23,163.11 310,160 C311.17,155.27 312.33,130.2 313.5,130.2 C314.7,130.2 315.9,161.61 317.1,162.1 C318.4,162.63 319.7,162.43 321,162.9 C322.1,163.3 323.2,167.1 324.3,167.1 C325.27,167.1 326.23,151.2 327.2,151.2 C327.47,151.2 327.73,152.4 328,153 L328,175.6 Z" fill="#8c8c8c"/>
<path d="M297.2,175.6 L297.2,154.5 C298.8,153.93 300.4,152.8 302,152.8 C303.9,152.8 305.8,166.7 307.7,166.7 C308.47,166.7 309.23,163.59 310,160.6 C311.17,156.05 312.33,131 313.5,131 C314.7,131 315.9,162.01 317.1,162.5 C318.4,163.03 319.7,162.83 321,163.3 C322.1,163.7 323.2,167.4 324.3,167.4 C325.27,167.4 326.23,152 327.2,152 C327.47,152 327.73,153.2 328,153.8 L328,175.6 Z" fill="#80a0fa"/>
<path d="M297.2,175.6 L297.2,155 C298.8,154.43 300.4,153.3 302,153.3 C303.9,153.3 305.8,166.9 307.7,166.9 C308.47,166.9 309.23,163.91 310,161 C311.17,156.58 312.33,131.6 313.5,131.6 C314.7,131.6 315.9,162.37 317.1,162.8 C318.4,163.26 319.7,163.08 321,163.5 C322.1,163.85 323.2,167.6 324.3,167.6 C325.27,167.6 326.23,152.5 327.2,152.5 C327.47,152.5 327.73,153.7 328,154.3 L328,175.6 Z" fill="#996300"/>
<path d="M297.2,175.6 L297.2,155.4 C298.8,154.87 300.4,153.8 302,153.8 C303.9,153.8 305.8,167.2 307.7,167.2 C308.47,167.2 309.23,164.27 310,161.4 C311.17,157.04 312.33,132 313.5,132 C314.7,132 315.9,162.51 317.1,163 C318.4,163.53 319.7,163.33 321,163.8 C322.1,164.19 323.2,167.8 324.3,167.8 C325.27,167.8 326.23,153 327.2,153 C327.47,153 327.73,154.2 328,154.8 L328,175.6 Z" fill="#993300"/>
<path d="M297.2,175.6 L297.2,162.1 C298.8,161.23 300.4,159.5 302,159.5 C303.9,159.5 305.8,168.4 307.7,168.4 C308.47,168.4 309.23,165.97 310,163.5 C311.17,159.74 312.33,136 313.5,136 C314.7,136 315.9,165.19 317.1,165.5 C318.4,165.83 319.7,165.7 321,166 C322.1,166.25 323.2,169 324.3,169 C325.27,169 326.23,160.4 327.2,160.4 C327.47,160.4 327.73,160.8 328,161 L328,175.6 Z" fill="#0000f5"/>
<path d="M297.2,175.6 L297.2,165.5 C298.8,164.5 300.4,162.5 302,162.5 C303.9,162.5 305.8,168.8 307.7,168.8 C308.47,168.8 309.23,166.6 310,164.3 C311.17,160.8 312.33,137 313.5,137 C314.7,137 315.9,165.99 317.1,166.3 C318.4,166.63 319.7,166.51 321,166.8 C322.1,167.05 323.2,169.5 324.3,169.5 C325.27,169.5 326.23,162 327.2,162 C327.47,162 327.73,162.33 328,162.5 L328,175.6 Z" fill="#a875e3"/>
<path d="M297.2,175.6 L297.2,166 C298.8,165.17 300.4,163.5 302,163.5 C303.9,163.5 305.8,169 307.7,169 C308.47,169 309.23,166.8 310,164.5 C311.17,161 312.33,137.2 313.5,137.2 C314.7,137.2 315.9,166.19 317.1,166.5 C318.4,166.83 319.7,166.71 321,167 C322.1,167.25 323.2,169.6 324.3,169.6 C325.27,169.6 326.23,163 327.2,163 C327.47,163 327.73,163.33 328,163.5 L328,175.6 Z" fill="#ff80e6"/>
<path d="M297.2,175.6 L297.2,169.7 C298.8,169.63 300.4,169.5 302,169.5 C303.9,169.5 305.8,171.5 307.7,171.5 C308.47,171.5 309.23,171.27 310,171 C311.17,170.59 312.33,166.5 313.5,166.5 C314.7,166.5 315.9,171 317.1,171 C318.4,171 319.7,171 321,171 C322.1,171 323.2,172 324.3,172 C325.27,172 326.23,170.5 327.2,170.5 C327.47,170.5 327.73,170.5 328,170.5 L328,175.6 Z" fill="#ffcf80"/>
<path d="M297.2,175.6 L297.2,171 C298.8,171 300.4,171 302,171 C303.9,171 305.8,172.5 307.7,172.5 C308.47,172.5 309.23,172.42 310,172.3 C311.17,172.12 312.33,168.8 313.5,168.8 C314.7,168.8 315.9,172.3 317.1,172.3 C318.4,172.3 319.7,172.3 321,172.3 C322.1,172.3 323.2,172.8 324.3,172.8 C325.27,172.8 326.23,172 327.2,172 C327.47,172 327.73,172 328,172 L328,175.6 Z" fill="#008c00"/>
<path d="M297.2,175.6 L297.2,172 C298.8,172.17 300.4,172.29 302,172.5 C303.9,172.75 305.8,173.5 307.7,173.5 C308.47,173.5 309.23,173.5 310,173.5 C311.17,173.5 312.33,172 313.5,172 C314.7,172 315.9,173.5 317.1,173.5 C318.4,173.5 319.7,173.5 321,173.5 C322.1,173.5 323.2,173.8 324.3,173.8 C325.27,173.8 326.23,173.5 327.2,173.5 C327.47,173.5 327.73,173.5 328,173.5 L328,175.6 Z" fill="#80fb80"/>
<path d="M348.9,175.6 L348.9,166.8 C350.1,168.53 351.3,172 352.5,172 C354.07,172 355.63,164.98 357.2,163.5 C358.93,161.86 360.67,160.2 362.4,160.2 C363.33,160.2 364.27,170.6 365.2,170.6 C366.13,170.6 367.07,161.2 368,161.2 C368.97,161.2 369.93,164.5 370.9,164.5 C372,164.5 373.1,164.26 374.2,164 C375.13,163.78 376.07,163.41 377,162.6 C377.83,161.87 378.67,158.26 379.5,155 C380.4,151.48 381.3,140 382.2,140 C382.63,140 383.07,148.04 383.5,152 C384.17,158.1 384.83,168.65 385.5,170.1 C386.43,172.13 387.37,173.4 388.3,173.4 C389.53,173.4 390.77,167.78 392,164.5 C393.27,161.13 394.53,155.03 395.8,153.2 C396.6,152.05 397.4,150.8 398.2,150.8 C398.8,150.8 399.4,155.8 400,158.5 C400.47,160.6 400.93,164.74 401.4,165.1 C402.83,166.19 404.27,166.01 405.7,166.6 C406.97,167.12 408.23,168.5 409.5,168.5 C411.23,168.5 412.97,155.2 414.7,155.2 C415.67,155.2 416.63,157.09 417.6,159 C418.43,160.64 419.27,168.5 420.1,168.5 C421.87,168.5 423.63,159.4 425.4,159.4 C427.07,159.4 428.73,166.1 430.4,166.1 C431.67,166.1 432.93,162.35 434.2,160.4 C435.7,158.09 437.2,153.3 438.7,153.3 C439.7,153.3 440.7,165.6 441.7,165.6 C443.6,165.6 445.5,154.2 447.4,154.2 C448.53,154.2 449.67,155.42 450.8,157.6 C451.27,158.5 451.73,163.62 452.2,166.6 C452.5,168.51 452.8,172.26 453.1,172.3 C455.8,172.66 458.5,172.57 461.2,172.7 L461.2,175.6 Z" fill="#8c8c8c"/>
<path d="M348.9,175.6 L348.9,167.2 C350.1,168.87 351.3,172.2 352.5,172.2 C354.07,172.2 355.63,165.4 357.2,164 C358.93,162.45 360.67,160.9 362.4,160.9 C363.33,160.9 364.27,170.8 365.2,170.8 C366.13,170.8 367.07,161.8 368,161.8 C368.97,161.8 369.93,165 370.9,165 C372,165 373.1,164.76 374.2,164.5 C375.13,164.28 376.07,163.91 377,163.1 C377.83,162.38 378.67,158.93 379.5,155.8 C380.4,152.42 381.3,141.4 382.2,141.4 C382.63,141.4 383.07,149.19 383.5,153 C384.17,158.86 384.83,168.89 385.5,170.3 C386.43,172.27 387.37,173.5 388.3,173.5 C389.53,173.5 390.77,168.16 392,165 C393.27,161.76 394.53,155.7 395.8,154 C396.6,152.93 397.4,151.8 398.2,151.8 C398.8,151.8 399.4,156.45 400,159 C400.47,160.98 400.93,164.93 401.4,165.3 C402.83,166.45 404.27,166.29 405.7,166.9 C406.97,167.44 408.23,168.8 409.5,168.8 C411.23,168.8 412.97,156.5 414.7,156.5 C415.67,156.5 416.63,158.11 417.6,159.8 C418.43,161.26 419.27,168.7 420.1,168.7 C421.87,168.7 423.63,159.6 425.4,159.6 C427.07,159.6 428.73,166.3 430.4,166.3 C431.67,166.3 432.93,162.84 434.2,161 C435.7,158.83 437.2,154.2 438.7,154.2 C439.7,154.2 440.7,165.8 441.7,165.8 C443.6,165.8 445.5,154.4 447.4,154.4 C448.53,154.4 449.67,155.62 450.8,157.8 C451.27,158.7 451.73,163.85 452.2,166.8 C452.5,168.69 452.8,172.36 453.1,172.4 C455.8,172.76 458.5,172.67 461.2,172.8 L461.2,175.6 Z" fill="#80a0fa"/>
<path d="M348.9,175.6 L348.9,167.6 C350.1,169.17 351.3,172.3 352.5,172.3 C354.07,172.3 355.63,165.85 357.2,164.5 C358.93,163 360.67,161.5 362.4,161.5 C363.33,161.5 364.27,171 365.2,171 C366.13,171 367.07,162.5 368,162.5 C368.97,162.5 369.93,165.5 370.9,165.5 C372,165.5 373.1,165.26 374.2,165 C375.13,164.78 376.07,164.4 377,163.6 C377.83,162.88 378.67,159.51 379.5,156.5 C380.4,153.25 381.3,143 382.2,143 C382.63,143 383.07,150.38 383.5,154 C384.17,159.57 384.83,169.14 385.5,170.5 C386.43,172.4 387.37,173.6 388.3,173.6 C389.53,173.6 390.77,168.42 392,165.4 C393.27,162.3 394.53,156.56 395.8,155 C396.6,154.02 397.4,153 398.2,153 C398.8,153 399.4,157.44 400,159.8 C400.47,161.63 400.93,165.11 401.4,165.5 C402.83,166.7 404.27,166.58 405.7,167.2 C406.97,167.75 408.23,169 409.5,169 C411.23,169 412.97,158 414.7,158 C415.67,158 416.63,159.35 417.6,160.8 C418.43,162.05 419.27,168.8 420.1,168.8 C421.87,168.8 423.63,159.8 425.4,159.8 C427.07,159.8 428.73,166.4 430.4,166.4 C431.67,166.4 432.93,163.2 434.2,161.5 C435.7,159.49 437.2,155.2 438.7,155.2 C439.7,155.2 440.7,165.9 441.7,165.9 C443.6,165.9 445.5,154.6 447.4,154.6 C448.53,154.6 449.67,155.82 450.8,158 C451.27,158.9 451.73,163.97 452.2,166.9 C452.5,168.79 452.8,172.46 453.1,172.5 C455.8,172.86 458.5,172.77 461.2,172.9 L461.2,175.6 Z" fill="#996300"/>
<path d="M348.9,175.6 L348.9,168 C350.1,169.47 351.3,172.4 352.5,172.4 C354.07,172.4 355.63,166.33 357.2,165 C358.93,163.52 360.67,162 362.4,162 C363.33,162 364.27,171.2 365.2,171.2 C366.13,171.2 367.07,163 368,163 C368.97,163 369.93,166 370.9,166 C372,166 373.1,165.75 374.2,165.5 C375.13,165.28 376.07,164.95 377,164.2 C377.83,163.53 378.67,160.32 379.5,157.5 C380.4,154.46 381.3,145 382.2,145 C382.63,145 383.07,152.1 383.5,155.5 C384.17,160.73 384.83,169.39 385.5,170.7 C386.43,172.53 387.37,173.7 388.3,173.7 C389.53,173.7 390.77,168.68 392,165.8 C393.27,162.84 394.53,157.22 395.8,156 C396.6,155.23 397.4,154.5 398.2,154.5 C398.8,154.5 399.4,158.39 400,160.5 C400.47,162.14 400.93,165.29 401.4,165.7 C402.83,166.95 404.27,166.86 405.7,167.5 C406.97,168.06 408.23,169.3 409.5,169.3 C411.23,169.3 412.97,159.5 414.7,159.5 C415.67,159.5 416.63,160.58 417.6,161.8 C418.43,162.85 419.27,168.9 420.1,168.9 C421.87,168.9 423.63,160 425.4,160 C427.07,160 428.73,166.5 430.4,166.5 C431.67,166.5 432.93,163.52 434.2,162 C435.7,160.2 437.2,156.5 438.7,156.5 C439.7,156.5 440.7,166 441.7,166 C443.6,166 445.5,154.8 447.4,154.8 C448.53,154.8 449.67,156.03 450.8,158.2 C451.27,159.1 451.73,164.08 452.2,167 C452.5,168.88 452.8,172.56 453.1,172.6 C455.8,172.96 458.5,172.87 461.2,173 L461.2,175.6 Z" fill="#993300"/>
<path d="M348.9,175.6 L348.9,170.1 C350.1,171 351.3,172.8 352.5,172.8 C354.07,172.8 355.63,168.08 357.2,167.8 C358.93,167.49 360.67,167.3 362.4,167.3 C363.33,167.3 364.27,171.5 365.2,171.5 C366.13,171.5 367.07,166.3 368,166.3 C368.97,166.3 369.93,167.8 370.9,167.8 C372,167.8 373.1,167.12 374.2,166.8 C375.13,166.53 376.07,166.48 377,166 C377.83,165.57 378.67,162.47 379.5,160 C380.4,157.33 381.3,149.4 382.2,149.4 C382.63,149.4 383.07,155.16 383.5,158 C384.17,162.37 384.83,169.8 385.5,171 C386.43,172.69 387.37,173.8 388.3,173.8 C389.53,173.8 390.77,169.62 392,167 C393.27,164.31 394.53,157.77 395.8,157.4 C396.6,157.17 397.4,157 398.2,157 C398.8,157 399.4,161.98 400,163.7 C400.47,165.03 400.93,166.77 401.4,167 C402.83,167.7 404.27,167.54 405.7,168 C406.97,168.41 408.23,169.9 409.5,169.9 C411.23,169.9 412.97,161.3 414.7,161.3 C415.67,161.3 416.63,162.4 417.6,163.5 C418.43,164.45 419.27,169 420.1,169 C421.87,169 423.63,160.4 425.4,160.4 C427.07,160.4 428.73,166.6 430.4,166.6 C431.67,166.6 432.93,164.63 434.2,163.5 C435.7,162.16 437.2,159 438.7,159 C439.7,159 440.7,166.1 441.7,166.1 C443.6,166.1 445.5,155 447.4,155 C448.53,155 449.67,156.23 450.8,158.4 C451.27,159.3 451.73,164.31 452.2,167.2 C452.5,169.06 452.8,172.66 453.1,172.7 C455.8,173.06 458.5,172.97 461.2,173.1 L461.2,175.6 Z" fill="#0000f5"/>
<path d="M348.9,175.6 L348.9,170.5 C350.1,171.3 351.3,172.9 352.5,172.9 C354.07,172.9 355.63,168.36 357.2,168.3 C358.93,168.23 360.67,168.2 362.4,168.2 C363.33,168.2 364.27,171.6 365.2,171.6 C366.13,171.6 367.07,167.2 368,167.2 C368.97,167.2 369.93,168.5 370.9,168.5 C372,168.5 373.1,168.07 374.2,167.8 C375.13,167.57 376.07,167.47 377,167 C377.83,166.58 378.67,163.87 379.5,162 C380.4,159.98 381.3,155.1 382.2,155.1 C382.63,155.1 383.07,158.92 383.5,161 C384.17,164.2 384.83,170.21 385.5,171.3 C386.43,172.83 387.37,173.9 388.3,173.9 C389.53,173.9 390.77,170.21 392,168 C393.27,165.73 394.53,161.17 395.8,160.2 C396.6,159.58 397.4,159 398.2,159 C398.8,159 399.4,162.42 400,164 C400.47,165.23 400.93,167.17 401.4,167.5 C402.83,168.51 404.27,168.5 405.7,169 C406.97,169.44 408.23,170.3 409.5,170.3 C411.23,170.3 412.97,163.7 414.7,163.7 C415.67,163.7 416.63,164.43 417.6,165.2 C418.43,165.86 419.27,169.3 420.1,169.3 C421.87,169.3 423.63,161.2 425.4,161.2 C427.07,161.2 428.73,166.8 430.4,166.8 C431.67,166.8 432.93,165.72 434.2,165 C435.7,164.15 437.2,161.8 438.7,161.8 C439.7,161.8 440.7,166.3 441.7,166.3 C443.6,166.3 445.5,155.5 447.4,155.5 C448.53,155.5 449.67,156.68 450.8,158.8 C451.27,159.67 451.73,164.68 452.2,167.5 C452.5,169.31 452.8,172.76 453.1,172.8 C455.8,173.16 458.5,173.07 461.2,173.2 L461.2,175.6 Z" fill="#a875e3"/>
<path d="M348.9,175.6 L348.9,171 C350.1,171.67 351.3,173 352.5,173 C354.07,173 355.63,169.47 357.2,169.2 C358.93,168.9 360.67,168.7 362.4,168.7 C363.33,168.7 364.27,171.8 365.2,171.8 C366.13,171.8 367.07,168.2 368,168.2 C368.97,168.2 369.93,169.2 370.9,169.2 C372,169.2 373.1,168.5 374.2,168.2 C375.13,167.94 376.07,167.92 377,167.5 C377.83,167.12 378.67,164.38 379.5,162.5 C380.4,160.47 381.3,155.5 382.2,155.5 C382.63,155.5 383.07,159.43 383.5,161.5 C384.17,164.69 384.83,170.45 385.5,171.5 C386.43,172.97 387.37,174 388.3,174 C389.53,174 390.77,170.59 392,168.5 C393.27,166.35 394.53,161.83 395.8,161 C396.6,160.48 397.4,160 398.2,160 C398.8,160 399.4,163.22 400,164.7 C400.47,165.85 400.93,167.68 401.4,168 C402.83,169 404.27,169.07 405.7,169.5 C406.97,169.88 408.23,170.5 409.5,170.5 C411.23,170.5 412.97,164 414.7,164 C415.67,164 416.63,164.73 417.6,165.5 C418.43,166.16 419.27,169.5 420.1,169.5 C421.87,169.5 423.63,165.6 425.4,165.6 C427.07,165.6 428.73,168.5 430.4,168.5 C431.67,168.5 432.93,166.68 434.2,165.7 C435.7,164.54 437.2,162 438.7,162 C439.7,162 440.7,168.5 441.7,168.5 C443.6,168.5 445.5,167.5 447.4,167.5 C448.53,167.5 449.67,167.65 450.8,168 C451.27,168.14 451.73,169.42 452.2,170.5 C452.5,171.19 452.8,173.26 453.1,173.3 C455.8,173.65 458.5,173.57 461.2,173.7 L461.2,175.6 Z" fill="#ff80e6"/>
<path d="M348.9,175.6 L348.9,172.5 C350.1,172.8 351.3,173.4 352.5,173.4 C354.07,173.4 355.63,170.6 357.2,170.6 C358.93,170.6 360.67,170.75 362.4,171 C363.33,171.14 364.27,172.5 365.2,172.5 C366.13,172.5 367.07,170.1 368,170.1 C368.97,170.1 369.93,170.8 370.9,170.8 C372,170.8 373.1,170.26 374.2,170.1 C375.13,169.97 376.07,169.99 377,169.8 C377.83,169.63 378.67,168 379.5,167 C380.4,165.92 381.3,163.5 382.2,163.5 C382.63,163.5 383.07,165.38 383.5,166.5 C384.17,168.22 384.83,171.83 385.5,172.5 C386.43,173.43 387.37,174.1 388.3,174.1 C389.53,174.1 390.77,172.11 392,171 C393.27,169.86 394.53,167.3 395.8,167.3 C396.6,167.3 397.4,167.3 398.2,167.3 C398.8,167.3 399.4,169.49 400,170.4 C400.47,171.1 400.93,172.3 401.4,172.3 C402.83,172.3 404.27,171.8 405.7,171.8 C406.97,171.8 408.23,171.8 409.5,171.8 C411.23,171.8 412.97,167.5 414.7,167.5 C415.67,167.5 416.63,168.17 417.6,168.8 C418.43,169.34 419.27,171.6 420.1,171.6 C421.87,171.6 423.63,170.4 425.4,170.4 C427.07,170.4 428.73,171.3 430.4,171.3 C431.67,171.3 432.93,169.55 434.2,168.5 C435.7,167.26 437.2,164.2 438.7,164.2 C439.7,164.2 440.7,170.4 441.7,170.4 C443.6,170.4 445.5,169.4 447.4,169.4 C448.53,169.4 449.67,169.42 450.8,169.5 C451.27,169.53 451.73,170.5 452.2,171.3 C452.5,171.82 452.8,173.46 453.1,173.5 C455.8,173.85 458.5,173.77 461.2,173.9 L461.2,175.6 Z" fill="#ffcf80"/>
<path d="M348.9,175.6 L348.9,172.7 C350.1,172.97 351.3,173.5 352.5,173.5 C354.07,173.5 355.63,170.8 357.2,170.8 C358.93,170.8 360.67,170.95 362.4,171.2 C363.33,171.33 364.27,172.6 365.2,172.6 C366.13,172.6 367.07,170.3 368,170.3 C368.97,170.3 369.93,171 370.9,171 C372,171 373.1,170.46 374.2,170.3 C375.13,170.17 376.07,170.19 377,170 C377.83,169.83 378.67,168.2 379.5,167.2 C380.4,166.12 381.3,163.7 382.2,163.7 C382.63,163.7 383.07,165.58 383.5,166.7 C384.17,168.42 384.83,172.07 385.5,172.7 C386.43,173.58 387.37,174.2 388.3,174.2 C389.53,174.2 390.77,172.29 392,171.2 C393.27,170.08 394.53,167.5 395.8,167.5 C396.6,167.5 397.4,167.5 398.2,167.5 C398.8,167.5 399.4,169.69 400,170.6 C400.47,171.3 400.93,172.5 401.4,172.5 C402.83,172.5 404.27,172 405.7,172 C406.97,172 408.23,172 409.5,172 C411.23,172 412.97,167.7 414.7,167.7 C415.67,167.7 416.63,168.37 417.6,169 C418.43,169.54 419.27,171.8 420.1,171.8 C421.87,171.8 423.63,171.1 425.4,171.1 C427.07,171.1 428.73,171.5 430.4,171.5 C431.67,171.5 432.93,169.76 434.2,168.7 C435.7,167.44 437.2,164.3 438.7,164.3 C439.7,164.3 440.7,170.39 441.7,170.5 C443.6,170.72 445.5,170.8 447.4,170.8 C448.53,170.8 449.67,170.8 450.8,170.8 C451.27,170.8 451.73,171.16 452.2,171.6 C452.5,171.88 452.8,173.56 453.1,173.6 C455.8,173.95 458.5,173.87 461.2,174 L461.2,175.6 Z" fill="#008c00"/>
<path d="M348.9,175.6 L348.9,173.1 C350.1,173.37 351.3,173.9 352.5,173.9 C354.07,173.9 355.63,172.5 357.2,172.5 C358.93,172.5 360.67,172.5 362.4,172.5 C363.33,172.5 364.27,173.4 365.2,173.4 C366.13,173.4 367.07,172.5 368,172.5 C368.97,172.5 369.93,172.5 370.9,172.5 C372,172.5 373.1,172.18 374.2,172 C375.13,171.85 376.07,171.76 377,171.5 C377.83,171.27 378.67,170.53 379.5,170 C380.4,169.43 381.3,168.2 382.2,168.2 C382.63,168.2 383.07,169.34 383.5,170 C384.17,171.02 384.83,173.2 385.5,173.5 C386.43,173.93 387.37,174.2 388.3,174.2 C389.53,174.2 390.77,173.16 392,172.5 C393.27,171.83 394.53,170.1 395.8,170.1 C396.6,170.1 397.4,170.1 398.2,170.1 C398.8,170.1 399.4,170.76 400,171.3 C400.47,171.72 400.93,173.2 401.4,173.2 C402.83,173.2 404.27,172.7 405.7,172.7 C406.97,172.7 408.23,172.7 409.5,172.7 C411.23,172.7 412.97,169.4 414.7,169.4 C415.67,169.4 416.63,170.06 417.6,170.5 C418.43,170.88 419.27,171.9 420.1,171.9 C421.87,171.9 423.63,171.3 425.4,171.3 C427.07,171.3 428.73,171.8 430.4,171.8 C431.67,171.8 432.93,170.01 434.2,169 C435.7,167.81 437.2,165.1 438.7,165.1 C439.7,165.1 440.7,170.35 441.7,170.6 C443.6,171.08 445.5,171.3 447.4,171.3 C448.53,171.3 449.67,171.3 450.8,171.3 C451.27,171.3 451.73,171.61 452.2,172 C452.5,172.25 452.8,173.66 453.1,173.7 C455.8,174.05 458.5,173.97 461.2,174.1 L461.2,175.6 Z" fill="#80fb80"/>
<path d="M480,175.6 L480,115.2 C480.83,113.83 481.67,111.1 482.5,111.1 C483.87,111.1 485.23,135.23 486.6,142.5 C488.2,151.01 489.8,161.8 491.4,161.8 C493.03,161.8 494.67,144.4 496.3,144.4 C497.9,144.4 499.5,154.42 501.1,158 C503.03,162.33 504.97,166.11 506.9,168.6 C508.17,170.23 509.43,172.5 510.7,172.5 C511.3,172.5 511.9,171.48 512.5,170.5 C513.47,168.92 514.43,160.1 515.4,160.1 C516.4,160.1 517.4,160.24 518.4,160.4 C520.07,160.67 521.73,162.14 523.4,163.8 C524.8,165.2 526.2,171.3 527.6,171.3 C528.73,171.3 529.87,170.54 531,169.7 C532.13,168.86 533.27,163.8 534.4,163.8 C534.57,163.8 534.73,164.27 534.9,164.5 L534.9,175.6 Z" fill="#8c8c8c"/>
<path d="M480,175.6 L480,116 C480.83,114.73 481.67,112.2 482.5,112.2 C483.87,112.2 485.23,135.86 486.6,143 C488.2,151.36 489.8,162 491.4,162 C493.03,162 494.67,146 496.3,146 C497.9,146 499.5,155.43 501.1,158.8 C503.03,162.88 504.97,166.4 506.9,168.8 C508.17,170.37 509.43,172.6 510.7,172.6 C511.3,172.6 511.9,171.63 512.5,170.7 C513.47,169.2 514.43,160.8 515.4,160.8 C516.4,160.8 517.4,160.99 518.4,161.2 C520.07,161.55 521.73,162.76 523.4,164.3 C524.8,165.59 526.2,171.5 527.6,171.5 C528.73,171.5 529.87,170.79 531,170 C532.13,169.21 533.27,164.3 534.4,164.3 C534.57,164.3 534.73,164.77 534.9,165 L534.9,175.6 Z" fill="#80a0fa"/>
<path d="M480,175.6 L480,119 C480.83,118.1 481.67,116.3 482.5,116.3 C483.87,116.3 485.23,136.75 486.6,143.5 C488.2,151.41 489.8,162.2 491.4,162.2 C493.03,162.2 494.67,147.5 496.3,147.5 C497.9,147.5 499.5,156.1 501.1,159.3 C503.03,163.17 504.97,166.66 506.9,169 C508.17,170.53 509.43,172.7 510.7,172.7 C511.3,172.7 511.9,171.77 512.5,170.9 C513.47,169.49 514.43,161.8 515.4,161.8 C516.4,161.8 517.4,161.89 518.4,162 C520.07,162.19 521.73,163.39 523.4,164.8 C524.8,165.98 526.2,171.6 527.6,171.6 C528.73,171.6 529.87,170.95 531,170.2 C532.13,169.45 533.27,164.5 534.4,164.5 C534.57,164.5 534.73,164.97 534.9,165.2 L534.9,175.6 Z" fill="#996300"/>
<path d="M480,175.6 L480,119.3 C480.83,118.4 481.67,116.6 482.5,116.6 C483.87,116.6 485.23,137.29 486.6,144 C488.2,151.85 489.8,162.4 491.4,162.4 C493.03,162.4 494.67,148.3 496.3,148.3 C497.9,148.3 499.5,156.69 501.1,159.8 C503.03,163.56 504.97,166.93 506.9,169.2 C508.17,170.69 509.43,172.8 510.7,172.8 C511.3,172.8 511.9,171.87 512.5,171 C513.47,169.6 514.43,162.1 515.4,162.1 C516.4,162.1 517.4,162.19 518.4,162.3 C520.07,162.49 521.73,163.64 523.4,165 C524.8,166.15 526.2,171.7 527.6,171.7 C528.73,171.7 529.87,171.05 531,170.3 C532.13,169.55 533.27,164.7 534.4,164.7 C534.57,164.7 534.73,165.17 534.9,165.4 L534.9,175.6 Z" fill="#993300"/>
<path d="M480,175.6 L480,121.1 C480.83,120.97 481.67,120.7 482.5,120.7 C483.87,120.7 485.23,139.81 486.6,146 C488.2,153.25 489.8,163 491.4,163 C493.03,163 494.67,149.3 496.3,149.3 C497.9,149.3 499.5,157.81 501.1,160.8 C503.03,164.42 504.97,167.46 506.9,169.6 C508.17,171 509.43,173 510.7,173 C511.3,173 511.9,172.07 512.5,171.2 C513.47,169.8 514.43,162.4 515.4,162.4 C516.4,162.4 517.4,162.6 518.4,162.8 C520.07,163.14 521.73,164.15 523.4,165.5 C524.8,166.63 526.2,171.9 527.6,171.9 C528.73,171.9 529.87,171.24 531,170.5 C532.13,169.76 533.27,165 534.4,165 C534.57,165 534.73,165.47 534.9,165.7 L534.9,175.6 Z" fill="#0000f5"/>
<path d="M480,175.6 L480,124.8 C480.83,124.07 481.67,122.6 482.5,122.6 C483.87,122.6 485.23,142.15 486.6,148 C488.2,154.85 489.8,163.5 491.4,163.5 C493.03,163.5 494.67,152 496.3,152 C497.9,152 499.5,159.11 501.1,161.8 C503.03,165.05 504.97,168.04 506.9,170 C508.17,171.29 509.43,173.1 510.7,173.1 C511.3,173.1 511.9,172.22 512.5,171.4 C513.47,170.08 514.43,163 515.4,163 C516.4,163 517.4,163.26 518.4,163.5 C520.07,163.9 521.73,164.75 523.4,166 C524.8,167.05 526.2,172 527.6,172 C528.73,172 529.87,171.39 531,170.7 C532.13,170.01 533.27,165.5 534.4,165.5 C534.57,165.5 534.73,165.97 534.9,166.2 L534.9,175.6 Z" fill="#a875e3"/>
<path d="M480,175.6 L480,145.4 C480.83,145.07 481.67,144.4 482.5,144.4 C483.87,144.4 485.23,153.15 486.6,156.5 C488.2,160.43 489.8,166.5 491.4,166.5 C493.03,166.5 494.67,156 496.3,156 C497.9,156 499.5,161.71 501.1,164 C503.03,166.76 504.97,169.66 506.9,171.2 C508.17,172.21 509.43,173.5 510.7,173.5 C511.3,173.5 511.9,172.7 512.5,172 C513.47,170.87 514.43,165.5 515.4,165.5 C516.4,165.5 517.4,165.77 518.4,166 C520.07,166.38 521.73,167.01 523.4,168 C524.8,168.83 526.2,172.6 527.6,172.6 C528.73,172.6 529.87,172.17 531,171.8 C532.13,171.43 533.27,170 534.4,170 C534.57,170 534.73,170.13 534.9,170.2 L534.9,175.6 Z" fill="#ff80e6"/>
<path d="M480,175.6 L480,156 C480.83,156 481.67,156 482.5,156 C483.87,156 485.23,159.94 486.6,162 C488.2,164.42 489.8,169.5 491.4,169.5 C493.03,169.5 494.67,163.8 496.3,163.8 C497.9,163.8 499.5,167.14 501.1,168.5 C503.03,170.14 504.97,171.97 506.9,172.8 C508.17,173.35 509.43,174 510.7,174 C511.3,174 511.9,173.48 512.5,173 C513.47,172.22 514.43,168 515.4,168 C516.4,168 517.4,168.29 518.4,168.5 C520.07,168.85 521.73,169.27 523.4,170 C524.8,170.61 526.2,173.2 527.6,173.2 C528.73,173.2 529.87,172.86 531,172.6 C532.13,172.34 533.27,171.5 534.4,171.5 C534.57,171.5 534.73,171.57 534.9,171.6 L534.9,175.6 Z" fill="#ffcf80"/>
<path d="M480,175.6 L480,156.2 C480.83,156.2 481.67,156.2 482.5,156.2 C483.87,156.2 485.23,160.22 486.6,162.3 C488.2,164.74 489.8,169.8 491.4,169.8 C493.03,169.8 494.67,164.5 496.3,164.5 C497.9,164.5 499.5,167.72 501.1,169 C503.03,170.54 504.97,172.23 506.9,173 C508.17,173.5 509.43,174.1 510.7,174.1 C511.3,174.1 511.9,173.62 512.5,173.2 C513.47,172.53 514.43,169.5 515.4,169.5 C516.4,169.5 517.4,169.5 518.4,169.5 C520.07,169.5 521.73,169.97 523.4,170.5 C524.8,170.94 526.2,173.4 527.6,173.4 C528.73,173.4 529.87,173.06 531,172.8 C532.13,172.54 533.27,171.7 534.4,171.7 C534.57,171.7 534.73,171.77 534.9,171.8 L534.9,175.6 Z" fill="#008c00"/>
<path d="M480,175.6 L480,167.6 C480.83,167.6 481.67,167.6 482.5,167.6 C483.87,167.6 485.23,168.83 486.6,169.5 C488.2,170.28 489.8,172 491.4,172 C493.03,172 494.67,168 496.3,168 C497.9,168 499.5,170.63 501.1,171.5 C503.03,172.56 504.97,173.62 506.9,174 C508.17,174.25 509.43,174.5 510.7,174.5 C511.3,174.5 511.9,174.36 512.5,174.2 C513.47,173.95 514.43,172 515.4,172 C516.4,172 517.4,172 518.4,172 C520.07,172 521.73,172.23 523.4,172.5 C524.8,172.73 526.2,174.2 527.6,174.2 C528.73,174.2 529.87,174.1 531,174 C532.13,173.9 533.27,173.5 534.4,173.5 C534.57,173.5 534.73,173.5 534.9,173.5 L534.9,175.6 Z" fill="#80fb80"/>
<path d="M553.4,175.6 L553.4,166.3 C555.2,162.53 557,155 558.8,155 C560.37,155 561.93,165.51 563.5,167.1 C564.33,167.95 565.17,168.52 566,168.8 C567.43,169.28 568.87,169.7 570.3,169.7 C571.97,169.7 573.63,169.7 575.3,169.7 C576.17,169.7 577.03,166.62 577.9,164.4 C579.33,160.74 580.77,153.46 582.2,148.7 C583.53,144.27 584.87,136.5 586.2,136.5 C586.87,136.5 587.53,151.88 588.2,158 C588.4,159.84 588.6,161.33 588.8,163 L588.8,175.6 Z" fill="#8c8c8c"/>
<path d="M553.4,175.6 L553.4,166.6 C555.2,163.4 557,157 558.8,157 C560.37,157 561.93,165.93 563.5,167.4 C564.33,168.18 565.17,168.72 566,169 C567.43,169.47 568.87,169.9 570.3,169.9 C571.97,169.9 573.63,169.9 575.3,169.9 C576.17,169.9 577.03,166.81 577.9,164.6 C579.33,160.94 580.77,153.77 582.2,149 C583.53,144.57 584.87,136.7 586.2,136.7 C586.87,136.7 587.53,152.08 588.2,158.2 C588.4,160.04 588.6,161.53 588.8,163.2 L588.8,175.6 Z" fill="#80a0fa"/>
<path d="M553.4,175.6 L553.4,166.8 C555.2,163.8 557,157.8 558.8,157.8 C560.37,157.8 561.93,166.14 563.5,167.6 C564.33,168.37 565.17,168.95 566,169.2 C567.43,169.63 568.87,170 570.3,170 C571.97,170 573.63,170 575.3,170 C576.17,170 577.03,166.91 577.9,164.7 C579.33,161.05 580.77,153.95 582.2,149.2 C583.53,144.78 584.87,136.9 586.2,136.9 C586.87,136.9 587.53,152.19 588.2,158.3 C588.4,160.13 588.6,161.63 588.8,163.3 L588.8,175.6 Z" fill="#996300"/>
<path d="M553.4,175.6 L553.4,167 C555.2,164.17 557,158.5 558.8,158.5 C560.37,158.5 561.93,166.43 563.5,167.8 C564.33,168.53 565.17,169.05 566,169.3 C567.43,169.73 568.87,170.1 570.3,170.1 C571.97,170.1 573.63,170.1 575.3,170.1 C576.17,170.1 577.03,167 577.9,164.8 C579.33,161.16 580.77,154.16 582.2,149.4 C583.53,144.97 584.87,137 586.2,137 C586.87,137 587.53,152.29 588.2,158.4 C588.4,160.23 588.6,161.73 588.8,163.4 L588.8,175.6 Z" fill="#993300"/>
<path d="M553.4,175.6 L553.4,167.2 C555.2,164.63 557,159.5 558.8,159.5 C560.37,159.5 561.93,166.66 563.5,168 C564.33,168.71 565.17,169.25 566,169.5 C567.43,169.93 568.87,170.3 570.3,170.3 C571.97,170.3 573.63,170.3 575.3,170.3 C576.17,170.3 577.03,167.2 577.9,165 C579.33,161.37 580.77,154.47 582.2,149.7 C583.53,145.27 584.87,137.2 586.2,137.2 C586.87,137.2 587.53,152.49 588.2,158.6 C588.4,160.43 588.6,161.93 588.8,163.6 L588.8,175.6 Z" fill="#0000f5"/>
<path d="M553.4,175.6 L553.4,167.5 C555.2,165.17 557,160.5 558.8,160.5 C560.37,160.5 561.93,167.05 563.5,168.3 C564.33,168.96 565.17,169.46 566,169.7 C567.43,170.12 568.87,170.5 570.3,170.5 C571.97,170.5 573.63,170.5 575.3,170.5 C576.17,170.5 577.03,167.38 577.9,165.2 C579.33,161.59 580.77,154.92 582.2,150.2 C583.53,145.81 584.87,137.7 586.2,137.7 C586.87,137.7 587.53,152.81 588.2,158.9 C588.4,160.73 588.6,162.23 588.8,163.9 L588.8,175.6 Z" fill="#a875e3"/>
<path d="M553.4,175.6 L553.4,169.5 C555.2,167.6 557,163.8 558.8,163.8 C560.37,163.8 561.93,169.09 563.5,170 C564.33,170.49 565.17,170.84 566,171 C567.43,171.27 568.87,171.5 570.3,171.5 C571.97,171.5 573.63,171.5 575.3,171.5 C576.17,171.5 577.03,170.34 577.9,169.5 C579.33,168.11 580.77,163.5 582.2,163.5 C583.53,163.5 584.87,163.85 586.2,164.4 C586.87,164.68 587.53,166 588.2,167 C588.4,167.3 588.6,167.67 588.8,168 L588.8,175.6 Z" fill="#ff80e6"/>
<path d="M553.4,175.6 L553.4,170.5 C555.2,169.1 557,166.3 558.8,166.3 C560.37,166.3 561.93,170.28 563.5,171 C564.33,171.38 565.17,171.67 566,171.8 C567.43,172.02 568.87,172.2 570.3,172.2 C571.97,172.2 573.63,172.2 575.3,172.2 C576.17,172.2 577.03,171.18 577.9,170.5 C579.33,169.37 580.77,166 582.2,166 C583.53,166 584.87,166.64 586.2,167.3 C586.87,167.63 587.53,168.44 588.2,169 C588.4,169.17 588.6,169.33 588.8,169.5 L588.8,175.6 Z" fill="#ffcf80"/>
<path d="M553.4,175.6 L553.4,170.6 C555.2,169.23 557,166.5 558.8,166.5 C560.37,166.5 561.93,170.38 563.5,171.1 C564.33,171.48 565.17,171.77 566,171.9 C567.43,172.12 568.87,172.3 570.3,172.3 C571.97,172.3 573.63,172.3 575.3,172.3 C576.17,172.3 577.03,171.28 577.9,170.6 C579.33,169.48 580.77,166.2 582.2,166.2 C583.53,166.2 584.87,166.85 586.2,167.5 C586.87,167.82 587.53,168.55 588.2,169.1 C588.4,169.26 588.6,169.43 588.8,169.6 L588.8,175.6 Z" fill="#008c00"/>
<path d="M553.4,175.6 L553.4,172 C555.2,171.23 557,169.7 558.8,169.7 C560.37,169.7 561.93,172.25 563.5,172.7 C564.33,172.94 565.17,173.11 566,173.2 C567.43,173.35 568.87,173.5 570.3,173.5 C571.97,173.5 573.63,173.5 575.3,173.5 C576.17,173.5 577.03,173.13 577.9,173 C579.33,172.79 580.77,172.6 582.2,172.5 C583.53,172.41 584.87,172.3 586.2,172.3 C586.87,172.3 587.53,173 588.2,173 C588.4,173 588.6,173 588.8,173 L588.8,175.6 Z" fill="#80fb80"/>
<path d="M594.6,175.6 L594.6,151.9 C595.17,151.7 595.73,151.67 596.3,151.3 C596.9,150.91 597.5,145.74 598.1,143 C598.8,139.8 599.5,133.5 600.2,133.5 C601.17,133.5 602.13,171.6 603.1,171.6 C604,171.6 604.9,168.63 605.8,165.7 C606.67,162.88 607.53,149.3 608.4,149.3 C609.17,149.3 609.93,155.9 610.7,155.9 C611.67,155.9 612.63,148.6 613.6,148.6 C614.5,148.6 615.4,153.9 616.3,153.9 C617.23,153.9 618.17,137.5 619.1,137.5 C619.9,137.5 620.7,144.7 621.5,144.7 C622.53,144.7 623.57,127.6 624.6,127.6 C625.77,127.6 626.93,144.83 628.1,151.3 C628.97,156.11 629.83,163.7 630.7,163.7 C631.8,163.7 632.9,163.7 634,163.7 C635.43,163.7 636.87,143.4 638.3,143.4 C639.7,143.4 641.1,151.8 642.5,155.2 C643.93,158.68 645.37,161.33 646.8,164.4 L646.8,175.6 Z" fill="#8c8c8c"/>
<path d="M594.6,175.6 L594.6,152.1 C595.17,151.9 595.73,151.87 596.3,151.5 C596.9,151.11 597.5,145.94 598.1,143.2 C598.8,140 599.5,133.7 600.2,133.7 C601.17,133.7 602.13,171.7 603.1,171.7 C604,171.7 604.9,168.73 605.8,165.8 C606.67,162.98 607.53,149.5 608.4,149.5 C609.17,149.5 609.93,156.1 610.7,156.1 C611.67,156.1 612.63,148.8 613.6,148.8 C614.5,148.8 615.4,154.1 616.3,154.1 C617.23,154.1 618.17,137.7 619.1,137.7 C619.9,137.7 620.7,144.9 621.5,144.9 C622.53,144.9 623.57,127.8 624.6,127.8 C625.77,127.8 626.93,145.03 628.1,151.5 C628.97,156.31 629.83,163.9 630.7,163.9 C631.8,163.9 632.9,163.9 634,163.9 C635.43,163.9 636.87,143.6 638.3,143.6 C639.7,143.6 641.1,152 642.5,155.4 C643.93,158.88 645.37,161.53 646.8,164.6 L646.8,175.6 Z" fill="#80a0fa"/>
<path d="M594.6,175.6 L594.6,152.2 C595.17,152 595.73,151.97 596.3,151.6 C596.9,151.21 597.5,146.04 598.1,143.3 C598.8,140.1 599.5,133.8 600.2,133.8 C601.17,133.8 602.13,171.8 603.1,171.8 C604,171.8 604.9,168.83 605.8,165.9 C606.67,163.08 607.53,149.6 608.4,149.6 C609.17,149.6 609.93,156.2 610.7,156.2 C611.67,156.2 612.63,148.9 613.6,148.9 C614.5,148.9 615.4,154.2 616.3,154.2 C617.23,154.2 618.17,137.8 619.1,137.8 C619.9,137.8 620.7,145 621.5,145 C622.53,145 623.57,127.9 624.6,127.9 C625.77,127.9 626.93,145.13 628.1,151.6 C628.97,156.41 629.83,164 630.7,164 C631.8,164 632.9,164 634,164 C635.43,164 636.87,143.7 638.3,143.7 C639.7,143.7 641.1,152.1 642.5,155.5 C643.93,158.98 645.37,161.63 646.8,164.7 L646.8,175.6 Z" fill="#996300"/>
<path d="M594.6,175.6 L594.6,152.3 C595.17,152.1 595.73,152.07 596.3,151.7 C596.9,151.31 597.5,146.14 598.1,143.4 C598.8,140.2 599.5,133.9 600.2,133.9 C601.17,133.9 602.13,171.9 603.1,171.9 C604,171.9 604.9,168.93 605.8,166 C606.67,163.18 607.53,149.7 608.4,149.7 C609.17,149.7 609.93,156.3 610.7,156.3 C611.67,156.3 612.63,149 613.6,149 C614.5,149 615.4,154.3 616.3,154.3 C617.23,154.3 618.17,137.9 619.1,137.9 C619.9,137.9 620.7,145.1 621.5,145.1 C622.53,145.1 623.57,128 624.6,128 C625.77,128 626.93,145.23 628.1,151.7 C628.97,156.51 629.83,164.1 630.7,164.1 C631.8,164.1 632.9,164.1 634,164.1 C635.43,164.1 636.87,143.8 638.3,143.8 C639.7,143.8 641.1,152.2 642.5,155.6 C643.93,159.08 645.37,161.73 646.8,164.8 L646.8,175.6 Z" fill="#993300"/>
<path d="M594.6,175.6 L594.6,152.4 C595.17,152.2 595.73,152.17 596.3,151.8 C596.9,151.41 597.5,146.24 598.1,143.5 C598.8,140.3 599.5,134 600.2,134 C601.17,134 602.13,172 603.1,172 C604,172 604.9,169.03 605.8,166.1 C606.67,163.28 607.53,149.8 608.4,149.8 C609.17,149.8 609.93,156.4 610.7,156.4 C611.67,156.4 612.63,149.1 613.6,149.1 C614.5,149.1 615.4,154.4 616.3,154.4 C617.23,154.4 618.17,138 619.1,138 C619.9,138 620.7,145.2 621.5,145.2 C622.53,145.2 623.57,128.1 624.6,128.1 C625.77,128.1 626.93,145.33 628.1,151.8 C628.97,156.61 629.83,164.2 630.7,164.2 C631.8,164.2 632.9,164.2 634,164.2 C635.43,164.2 636.87,143.9 638.3,143.9 C639.7,143.9 641.1,152.3 642.5,155.7 C643.93,159.18 645.37,161.83 646.8,164.9 L646.8,175.6 Z" fill="#0000f5"/>
<path d="M594.6,175.6 L594.6,152.8 C595.17,152.6 595.73,152.57 596.3,152.2 C596.9,151.81 597.5,146.64 598.1,143.9 C598.8,140.7 599.5,134.4 600.2,134.4 C601.17,134.4 602.13,172.1 603.1,172.1 C604,172.1 604.9,169.25 605.8,166.4 C606.67,163.66 607.53,150.2 608.4,150.2 C609.17,150.2 609.93,156.8 610.7,156.8 C611.67,156.8 612.63,149.5 613.6,149.5 C614.5,149.5 615.4,154.8 616.3,154.8 C617.23,154.8 618.17,138.4 619.1,138.4 C619.9,138.4 620.7,145.6 621.5,145.6 C622.53,145.6 623.57,128.5 624.6,128.5 C625.77,128.5 626.93,145.73 628.1,152.2 C628.97,157.01 629.83,164.6 630.7,164.6 C631.8,164.6 632.9,164.6 634,164.6 C635.43,164.6 636.87,144.3 638.3,144.3 C639.7,144.3 641.1,152.7 642.5,156.1 C643.93,159.58 645.37,162.23 646.8,165.3 L646.8,175.6 Z" fill="#a875e3"/>
<path d="M594.6,175.6 L594.6,163.1 C595.17,162.9 595.73,162.5 596.3,162.5 C596.9,162.5 597.5,163 598.1,163 C598.8,163 599.5,161.9 600.2,161.9 C601.17,161.9 602.13,172.2 603.1,172.2 C604,172.2 604.9,167 605.8,167 C606.67,167 607.53,167 608.4,167 C609.17,167 609.93,170.3 610.7,170.3 C611.67,170.3 612.63,170.3 613.6,170.3 C614.5,170.3 615.4,169.56 616.3,168.8 C617.23,168.01 618.17,163.8 619.1,163.8 C619.9,163.8 620.7,167.5 621.5,167.5 C622.53,167.5 623.57,160.8 624.6,160.8 C625.77,160.8 626.93,164.41 628.1,166 C628.97,167.18 629.83,169.3 630.7,169.3 C631.8,169.3 632.9,168.96 634,168.5 C635.43,167.9 636.87,159 638.3,159 C639.7,159 641.1,160.76 642.5,162 C643.93,163.27 645.37,165.33 646.8,167 L646.8,175.6 Z" fill="#ff80e6"/>
<path d="M594.6,175.6 L594.6,167 C595.17,166.93 595.73,166.8 596.3,166.8 C596.9,166.8 597.5,167.5 598.1,167.5 C598.8,167.5 599.5,167 600.2,167 C601.17,167 602.13,172.3 603.1,172.3 C604,172.3 604.9,168.37 605.8,168.3 C606.67,168.24 607.53,168.2 608.4,168.2 C609.17,168.2 609.93,170.2 610.7,170.3 C611.67,170.43 612.63,170.5 613.6,170.5 C614.5,170.5 615.4,169.5 616.3,169.5 C617.23,169.5 618.17,170 619.1,170 C619.9,170 620.7,169.7 621.5,169.5 C622.53,169.24 623.57,168.5 624.6,168.5 C625.77,168.5 626.93,168.75 628.1,169 C628.97,169.18 629.83,170 630.7,170 C631.8,170 632.9,169.78 634,169.5 C635.43,169.14 636.87,165.6 638.3,165.6 C639.7,165.6 641.1,166.86 642.5,167.5 C643.93,168.16 645.37,168.83 646.8,169.5 L646.8,175.6 Z" fill="#ffcf80"/>
<path d="M594.6,175.6 L594.6,167.2 C595.17,167.13 595.73,167 596.3,167 C596.9,167 597.5,167.7 598.1,167.7 C598.8,167.7 599.5,167.2 600.2,167.2 C601.17,167.2 602.13,172.4 603.1,172.4 C604,172.4 604.9,168.69 605.8,168.5 C606.67,168.32 607.53,168.2 608.4,168.2 C609.17,168.2 609.93,170.4 610.7,170.5 C611.67,170.63 612.63,170.7 613.6,170.7 C614.5,170.7 615.4,169.7 616.3,169.7 C617.23,169.7 618.17,170.2 619.1,170.2 C619.9,170.2 620.7,169.89 621.5,169.7 C622.53,169.45 623.57,168.8 624.6,168.8 C625.77,168.8 626.93,168.99 628.1,169.2 C628.97,169.36 629.83,170.2 630.7,170.2 C631.8,170.2 632.9,169.97 634,169.7 C635.43,169.34 636.87,166 638.3,166 C639.7,166 641.1,167.09 642.5,167.7 C643.93,168.32 645.37,169.03 646.8,169.7 L646.8,175.6 Z" fill="#008c00"/>
<path d="M594.6,175.6 L594.6,171.8 C595.17,171.87 595.73,171.92 596.3,172 C596.9,172.08 597.5,172.23 598.1,172.3 C598.8,172.39 599.5,172.4 600.2,172.5 C601.17,172.63 602.13,173.3 603.1,173.3 C604,173.3 604.9,173.05 605.8,173 C606.67,172.95 607.53,172.9 608.4,172.9 C609.17,172.9 609.93,173.51 610.7,173.6 C611.67,173.71 612.63,173.8 613.6,173.8 C614.5,173.8 615.4,173.63 616.3,173.5 C617.23,173.36 618.17,172.96 619.1,172.9 C619.9,172.85 620.7,172.85 621.5,172.8 C622.53,172.73 623.57,172.2 624.6,172.2 C625.77,172.2 626.93,172.2 628.1,172.2 C628.97,172.2 629.83,172.2 630.7,172.2 C631.8,172.2 632.9,172.2 634,172.2 C635.43,172.2 636.87,170.7 638.3,170.7 C639.7,170.7 641.1,171.89 642.5,172 C643.93,172.12 645.37,172.13 646.8,172.2 L646.8,175.6 Z" fill="#80fb80"/>
<path d="M90.35,38.3 L89.7,45 L89.1,55 L88.7,65 L88.1,75 L86.9,100 L85.9,140 L84.8,175.6 L96.4,175.6 L95,140 L93.6,100 L92.7,75 L92.1,65 L91.7,55 L91.1,45 L90.45,38.3Z" fill="#8c8c8c"/>
<path d="M89.81,43.9 L89.7,45 L89.1,55 L88.7,65 L88.1,75 L86.9,100 L85.9,140 L84.8,175.6 L96.4,175.6 L95,140 L93.6,100 L92.7,75 L92.1,65 L91.7,55 L91.1,45 L90.99,43.9Z" fill="#80a0fa"/>
<path d="M89.59,46.9 L89.1,55 L88.7,65 L88.1,75 L86.9,100 L85.9,140 L84.8,175.6 L96.4,175.6 L95,140 L93.6,100 L92.7,75 L92.1,65 L91.7,55 L91.21,46.9Z" fill="#996300"/>
<path d="M89.19,65.2 L88.6,75 L87.4,100 L86.4,140 L85.3,175.6 L95.9,175.6 L94.5,140 L93.1,100 L92.2,75 L91.61,65.2Z" fill="#993300"/>
<path d="M89.34,66 L88.8,75 L87.6,100 L86.6,140 L85.5,175.6 L95.7,175.6 L94.3,140 L92.9,100 L92,75 L91.46,66Z" fill="#0000f5"/>
<path d="M89.48,67 L89,75 L87.8,100 L86.8,140 L85.7,175.6 L95.5,175.6 L94.1,140 L92.7,100 L91.8,75 L91.32,67Z" fill="#ff80e6"/>
<path d="M89.08,92 L88.7,100 L87.7,140 L86.6,175.6 L94.6,175.6 L93.2,140 L91.8,100 L91.51,92Z" fill="#ffcf80"/>
<path d="M85.2,175.6 L85.7,173.3 L90,164.8 L93.5,173.3 L94.5,175.6Z" fill="#008c00"/>
<rect x="84.8" y="173.6" width="11.6" height="2" fill="#80fb80"/>
<path d="M199.38,20.15 L199,25 L198.6,35 L198.4,45 L198.1,55 L197.1,90 L196.4,130 L196.1,136 L196,172 L196,175.6 L202.5,175.6 L202.4,172 L201.9,136 L201.7,130 L201.4,90 L200.9,55 L200.6,45 L200.4,35 L200.1,25 L199.43,20.15Z" fill="#8c8c8c"/>
<path d="M199.09,23.9 L199,25 L198.6,35 L198.4,45 L198.1,55 L197.1,90 L196.4,130 L196.1,136 L196,172 L196,175.6 L202.5,175.6 L202.4,172 L201.9,136 L201.7,130 L201.4,90 L200.9,55 L200.6,45 L200.4,35 L200.1,25 L199.95,23.9Z" fill="#80a0fa"/>
<path d="M198.94,26.4 L198.6,35 L198.4,45 L198.1,55 L197.1,90 L196.4,130 L196.1,136 L196,172 L196,175.6 L202.5,175.6 L202.4,172 L201.9,136 L201.7,130 L201.4,90 L200.9,55 L200.6,45 L200.4,35 L200.14,26.4Z" fill="#996300"/>
<path d="M198.58,35.8 L198.4,45 L198.1,55 L197.1,90 L196.4,130 L196.1,136 L196,172 L196,175.6 L202.5,175.6 L202.4,172 L201.9,136 L201.7,130 L201.4,90 L200.9,55 L200.6,45 L200.42,35.8Z" fill="#993300"/>
<path d="M198.27,49.2 L198.1,55 L197.1,90 L196.4,130 L196.1,136 L196,172 L196,175.6 L202.5,175.6 L202.4,172 L201.9,136 L201.7,130 L201.4,90 L200.9,55 L200.73,49.2Z" fill="#0000f5"/>
<path d="M198.1,55 L197.1,90 L196.4,130 L196.1,136 L196,172 L196,175.6 L202.5,175.6 L202.4,172 L201.9,136 L201.7,130 L201.4,90 L200.9,55Z" fill="#a875e3"/>
<path d="M198.36,66.8 L197.7,90 L197,130 L196.7,136 L196.6,172 L196.6,175.6 L201.9,175.6 L201.8,172 L201.3,136 L201.1,130 L200.8,90 L200.47,66.8Z" fill="#ff80e6"/>
<path d="M197.6,132 L197.4,136 L197.3,172 L197.3,175.6 L201.2,175.6 L201.1,172 L200.6,136 L200.47,132Z" fill="#ffcf80"/>
<path d="M196.3,175.6 L196.6,172.3 L199.3,170.8 L201.8,172.3 L202.2,175.6Z" fill="#008c00"/>
<rect x="196" y="173.6" width="6.5" height="2" fill="#80fb80"/>
<rect x="36" y="175" width="181" height="0.9" fill="#bfe6f8"/>
<path d="M34.5,4.2 V177.5 H652" fill="none" stroke="#999999" stroke-width="1"/>
<path d="M28,175.5 H34.5" stroke="#999999" stroke-width="1"/>
<text x="24.5" y="178" font-size="8.4" text-anchor="end" fill="#111111">0</text>
<path d="M28,146.95 H34.5" stroke="#999999" stroke-width="1"/>
<text x="24.5" y="149.45" font-size="8.4" text-anchor="end" fill="#111111">10</text>
<path d="M28,118.4 H34.5" stroke="#999999" stroke-width="1"/>
<text x="24.5" y="120.9" font-size="8.4" text-anchor="end" fill="#111111">20</text>
<path d="M28,89.85 H34.5" stroke="#999999" stroke-width="1"/>
<text x="24.5" y="92.35" font-size="8.4" text-anchor="end" fill="#111111">30</text>
<path d="M28,61.3 H34.5" stroke="#999999" stroke-width="1"/>
<text x="24.5" y="63.8" font-size="8.4" text-anchor="end" fill="#111111">40</text>
<path d="M28,32.75 H34.5" stroke="#999999" stroke-width="1"/>
<text x="24.5" y="35.25" font-size="8.4" text-anchor="end" fill="#111111">50</text>
<path d="M28,4.2 H34.5" stroke="#999999" stroke-width="1"/>
<text x="24.5" y="6.7" font-size="8.4" text-anchor="end" fill="#111111">60</text>
<path d="M41.6,177.5 V183" stroke="#999999" stroke-width="1"/>
<text transform="translate(41.6,192.3) scale(1.06,1)" x="-15.79 -12.37 -8.96 -7.69 -5.15 -1.74 0.4 4.68 8.09 11.5" y="0" font-size="7.7" fill="#111111">21.11.2019</text>
<path d="M96.04,177.5 V183" stroke="#999999" stroke-width="1"/>
<text transform="translate(96.04,192.3) scale(1.06,1)" x="-16.66 -14.11 -10.7 -9.43 -6.02 -1.74 0.4 4.68 8.09 11.5" y="0" font-size="7.7" fill="#111111">11.12.2019</text>
<path d="M150.48,177.5 V183" stroke="#999999" stroke-width="1"/>
<text transform="translate(150.48,192.3) scale(1.06,1)" x="-16.66 -13.24 -9.83 -8.56 -5.15 -0.87 1.27 5.55 8.96 12.37" y="0" font-size="7.7" fill="#111111">31.12.2019</text>
<path d="M204.92,177.5 V183" stroke="#999999" stroke-width="1"/>
<text transform="translate(204.92,192.3) scale(1.06,1)" x="-16.25 -11.97 -7.69 -6.42 -3.01 -0.87 3.41 7.69 11.97" y="0" font-size="7.7" fill="#111111">20.1.2020</text>
<path d="M259.36,177.5 V183" stroke="#999999" stroke-width="1"/>
<text transform="translate(259.36,192.3) scale(1.06,1)" x="-14.98 -10.7 -8.56 -4.28 -2.14 2.14 6.42 10.7" y="0" font-size="7.7" fill="#111111">9.2.2020</text>
<path d="M313.8,177.5 V183" stroke="#999999" stroke-width="1"/>
<text transform="translate(313.8,192.3) scale(1.06,1)" x="-17.12 -12.84 -8.56 -6.42 -2.14 0 4.28 8.56 12.84" y="0" font-size="7.7" fill="#111111">29.2.2020</text>
<path d="M368.24,177.5 V183" stroke="#999999" stroke-width="1"/>
<text transform="translate(368.24,192.3) scale(1.06,1)" x="-17.12 -12.84 -8.56 -6.42 -2.14 0 4.28 8.56 12.84" y="0" font-size="7.7" fill="#111111">20.3.2020</text>
<path d="M422.68,177.5 V183" stroke="#999999" stroke-width="1"/>
<text transform="translate(422.68,192.3) scale(1.06,1)" x="-14.98 -10.7 -8.56 -4.28 -2.14 2.14 6.42 10.7" y="0" font-size="7.7" fill="#111111">9.4.2020</text>
<path d="M477.12,177.5 V183" stroke="#999999" stroke-width="1"/>
<text transform="translate(477.12,192.3) scale(1.06,1)" x="-17.12 -12.84 -8.56 -6.42 -2.14 0 4.28 8.56 12.84" y="0" font-size="7.7" fill="#111111">29.4.2020</text>
<path d="M531.56,177.5 V183" stroke="#999999" stroke-width="1"/>
<text transform="translate(531.56,192.3) scale(1.06,1)" x="-17.12 -13.71 -9.43 -7.29 -3.01 -0.87 3.41 7.69 11.97" y="0" font-size="7.7" fill="#111111">19.5.2020</text>
<path d="M586,177.5 V183" stroke="#999999" stroke-width="1"/>
<text transform="translate(586,192.3) scale(1.06,1)" x="-14.98 -10.7 -8.56 -4.28 -2.14 2.14 6.42 10.7" y="0" font-size="7.7" fill="#111111">8.6.2020</text>
<path d="M640.44,177.5 V183" stroke="#999999" stroke-width="1"/>
<text transform="translate(640.44,192.3) scale(1.06,1)" x="-17.12 -12.84 -8.56 -6.42 -2.14 0 4.28 8.56 12.84" y="0" font-size="7.7" fill="#111111">28.6.2020</text>
<text x="343" y="206.2" font-size="8.65" text-anchor="middle" fill="#111111">Date (DD.MM.YYYY)</text>
<text transform="translate(8.8,90.4) rotate(-90)" font-size="9.2" text-anchor="middle" fill="#111111">Concentration (μg m<tspan dy="-3" font-size="6">−3</tspan><tspan dy="3">)</tspan></text>
<text x="408.6" y="14.3" font-size="7.7" fill="#111111">COVID lockdown</text>
<text x="0" y="7" font-size="11.5" font-weight="bold" fill="#000">a</text>
<rect x="573.2" y="9.2" width="7.8" height="7.5" fill="#8c8c8c"/>
<text x="585.8" y="15.2" font-size="7.3" fill="#111111">HOA</text>
<rect x="573.2" y="21.3" width="7.8" height="7.5" fill="#80a0fa"/>
<text x="585.8" y="27.3" font-size="7.3" fill="#111111">COA</text>
<rect x="573.2" y="33.4" width="7.8" height="7.5" fill="#993300"/>
<text x="585.8" y="39.4" font-size="7.3" fill="#111111">SFOA<tspan dx="-0.6" dy="2.2" font-size="5.2">night</tspan></text>
<rect x="573.2" y="45.5" width="7.8" height="7.5" fill="#996300"/>
<text x="585.8" y="51.5" font-size="7.3" fill="#111111">SFOA<tspan dx="-0.6" dy="2.2" font-size="5.2">day</tspan></text>
<rect x="573.2" y="57.6" width="7.8" height="7.5" fill="#ffcf80"/>
<text x="585.8" y="63.6" font-size="7.3" fill="#111111">sfSOA</text>
<rect x="573.2" y="69.7" width="7.8" height="7.5" fill="#0000f5"/>
<text x="585.8" y="75.7" font-size="7.3" fill="#111111">aromSOA<tspan dx="-0.6" dy="2.2" font-size="5.2">night</tspan></text>
<rect x="573.2" y="81.8" width="7.8" height="7.5" fill="#a875e3"/>
<text x="585.8" y="87.8" font-size="7.3" fill="#111111">aromSOA<tspan dx="-0.6" dy="2.2" font-size="5.2">day</tspan></text>
<rect x="573.2" y="93.9" width="7.8" height="7.5" fill="#ff80e6"/>
<text x="585.8" y="99.9" font-size="7.3" fill="#111111">SOA<tspan dx="-0.6" dy="2.2" font-size="5.2">aq</tspan></text>
<rect x="573.2" y="106" width="7.8" height="7.5" fill="#008c00"/>
<text x="585.8" y="112" font-size="7.3" fill="#111111">bioSOA<tspan dx="-0.6" dy="2.2" font-size="5.2">night</tspan></text>
<rect x="573.2" y="118.1" width="7.8" height="7.5" fill="#80fb80"/>
<text x="585.8" y="124.1" font-size="7.3" fill="#111111">bioSOA<tspan dx="-0.6" dy="2.2" font-size="5.2">day</tspan></text>
<path d="M53.1,229 L72.9,229 L85.2,229 L100.1,229 L124.8,229 L133.6,229 L149.3,229 L168.8,229 L184,229 L184,372 L168.8,372 L149.3,372 L133.6,372 L124.8,372 L100.1,372 L85.2,372 L72.9,372 L53.1,372Z" fill="#8c8c8c"/>
<path d="M53.1,231.9 L72.9,233.9 L85.2,237.6 L100.1,238.2 L124.8,239 L133.6,240.2 L149.3,233.9 L168.8,238 L184,233.4 L184,372 L168.8,372 L149.3,372 L133.6,372 L124.8,372 L100.1,372 L85.2,372 L72.9,372 L53.1,372Z" fill="#80a0fa"/>
<path d="M53.1,260.3 L72.9,256.6 L85.2,262.7 L100.1,258.5 L124.8,252 L133.6,252.8 L149.3,238.4 L168.8,240.8 L184,236.1 L184,372 L168.8,372 L149.3,372 L133.6,372 L124.8,372 L100.1,372 L85.2,372 L72.9,372 L53.1,372Z" fill="#993300"/>
<path d="M53.1,293 L72.9,292 L85.2,295.8 L100.1,291.1 L124.8,286.4 L133.6,288.1 L149.3,261.2 L168.8,253.8 L184,243.6 L184,372 L168.8,372 L149.3,372 L133.6,372 L124.8,372 L100.1,372 L85.2,372 L72.9,372 L53.1,372Z" fill="#996300"/>
<path d="M53.1,298.5 L72.9,297.1 L85.2,301.6 L100.1,299.8 L124.8,304.5 L133.6,310.4 L149.3,272.3 L168.8,272.3 L184,256.6 L184,372 L168.8,372 L149.3,372 L133.6,372 L124.8,372 L100.1,372 L85.2,372 L72.9,372 L53.1,372Z" fill="#ffcf80"/>
<path d="M53.1,301.6 L72.9,298.5 L85.2,302.9 L100.1,302.5 L124.8,312.7 L133.6,320.1 L149.3,286.2 L168.8,326.8 L184,311.2 L184,372 L168.8,372 L149.3,372 L133.6,372 L124.8,372 L100.1,372 L85.2,372 L72.9,372 L53.1,372Z" fill="#0000f5"/>
<path d="M53.1,302.5 L72.9,299.2 L85.2,303.2 L100.1,303.5 L124.8,315.6 L133.6,325.3 L149.3,294.1 L168.8,331.2 L184,314.9 L184,372 L168.8,372 L149.3,372 L133.6,372 L124.8,372 L100.1,372 L85.2,372 L72.9,372 L53.1,372Z" fill="#a875e3"/>
<path d="M53.1,306.6 L72.9,304.7 L85.2,307.8 L100.1,307.8 L124.8,321.6 L133.6,332 L149.3,295.6 L168.8,337.9 L184,323 L184,372 L168.8,372 L149.3,372 L133.6,372 L124.8,372 L100.1,372 L85.2,372 L72.9,372 L53.1,372Z" fill="#ff80e6"/>
<path d="M53.1,349.8 L72.9,357 L85.2,360 L100.1,362.4 L124.8,363.7 L133.6,362.9 L149.3,367.3 L168.8,364.3 L184,365.1 L184,372 L168.8,372 L149.3,372 L133.6,372 L124.8,372 L100.1,372 L85.2,372 L72.9,372 L53.1,372Z" fill="#008c00"/>
<path d="M53.1,354.9 L72.9,360 L85.2,363.1 L100.1,364.6 L124.8,367 L133.6,367.8 L149.3,370.3 L168.8,370.6 L184,370.6 L184,372 L168.8,372 L149.3,372 L133.6,372 L124.8,372 L100.1,372 L85.2,372 L72.9,372 L53.1,372Z" fill="#80fb80"/>
<path d="M52.8,360 L85.3,320.5 L99.4,337.2 L125.3,291.8 L133.5,297 L148.8,360.5 L183.6,360.5" fill="none" stroke="#fff" stroke-width="2" stroke-linejoin="round"/>
<path d="M52.8,360 L85.3,320.5 L99.4,337.2 L125.3,291.8 L133.5,297 L148.8,360.5 L183.6,360.5" fill="none" stroke="#000" stroke-width="2" stroke-dasharray="3.4,2.5" stroke-linejoin="round"/>
<path d="M35.6,229 V373.4 H186.5" fill="none" stroke="#999999" stroke-width="1"/>
<path d="M186.5,229 V373.4" fill="none" stroke="#999999" stroke-width="1"/>
<path d="M29.8,372 H35.6" stroke="#999999" stroke-width="1"/>
<path d="M186.5,372 H192" stroke="#999999" stroke-width="1"/>
<text x="25.2" y="374.8" font-size="8.3" text-anchor="end" fill="#111111">0</text>
<text x="196.2" y="374.8" font-size="8.3" fill="#111111">0</text>
<path d="M29.8,343.4 H35.6" stroke="#999999" stroke-width="1"/>
<path d="M186.5,343.4 H192" stroke="#999999" stroke-width="1"/>
<text x="25.2" y="346.2" font-size="8.3" text-anchor="end" fill="#111111">0.2</text>
<text x="196.2" y="346.2" font-size="8.3" fill="#111111">5</text>
<path d="M29.8,314.8 H35.6" stroke="#999999" stroke-width="1"/>
<path d="M186.5,314.8 H192" stroke="#999999" stroke-width="1"/>
<text x="25.2" y="317.6" font-size="8.3" text-anchor="end" fill="#111111">0.4</text>
<text x="196.2" y="317.6" font-size="8.3" fill="#111111">10</text>
<path d="M29.8,286.2 H35.6" stroke="#999999" stroke-width="1"/>
<path d="M186.5,286.2 H192" stroke="#999999" stroke-width="1"/>
<text x="25.2" y="289" font-size="8.3" text-anchor="end" fill="#111111">0.6</text>
<text x="196.2" y="289" font-size="8.3" fill="#111111">15</text>
<path d="M29.8,257.6 H35.6" stroke="#999999" stroke-width="1"/>
<path d="M186.5,257.6 H192" stroke="#999999" stroke-width="1"/>
<text x="25.2" y="260.4" font-size="8.3" text-anchor="end" fill="#111111">0.8</text>
<text x="196.2" y="260.4" font-size="8.3" fill="#111111">20</text>
<path d="M29.8,229 H35.6" stroke="#999999" stroke-width="1"/>
<path d="M186.5,229 H192" stroke="#999999" stroke-width="1"/>
<text x="25.2" y="231.8" font-size="8.3" text-anchor="end" fill="#111111">1.0</text>
<text x="196.2" y="231.8" font-size="8.3" fill="#111111">25</text>
<path d="M36.9,373.4 V379.7" stroke="#999999" stroke-width="1"/>
<text x="36.9" y="388.6" font-size="8.4" text-anchor="middle" fill="#111111">1</text>
<path d="M62.31,373.4 V376.9" stroke="#999999" stroke-width="1"/>
<text x="62.31" y="383.8" font-size="6.4" text-anchor="middle" fill="#111111">2</text>
<path d="M77.17,373.4 V376.9" stroke="#999999" stroke-width="1"/>
<text x="77.17" y="383.8" font-size="6.4" text-anchor="middle" fill="#111111">3</text>
<path d="M87.71,373.4 V376.9" stroke="#999999" stroke-width="1"/>
<text x="87.71" y="383.8" font-size="6.4" text-anchor="middle" fill="#111111">4</text>
<path d="M95.89,373.4 V376.9" stroke="#999999" stroke-width="1"/>
<text x="95.89" y="383.8" font-size="6.4" text-anchor="middle" fill="#111111">5</text>
<path d="M102.58,373.4 V376.9" stroke="#999999" stroke-width="1"/>
<text x="102.58" y="383.8" font-size="6.4" text-anchor="middle" fill="#111111">6</text>
<path d="M108.23,373.4 V376.9" stroke="#999999" stroke-width="1"/>
<text x="108.23" y="383.8" font-size="6.4" text-anchor="middle" fill="#111111">7</text>
<path d="M113.12,373.4 V376.9" stroke="#999999" stroke-width="1"/>
<text x="113.12" y="383.8" font-size="6.4" text-anchor="middle" fill="#111111">8</text>
<path d="M117.44,373.4 V376.9" stroke="#999999" stroke-width="1"/>
<path d="M121.3,373.4 V379.7" stroke="#999999" stroke-width="1"/>
<text x="121.3" y="388.6" font-size="8.4" text-anchor="middle" fill="#111111">10</text>
<path d="M146.71,373.4 V376.9" stroke="#999999" stroke-width="1"/>
<text x="146.71" y="383.8" font-size="6.4" text-anchor="middle" fill="#111111">2</text>
<path d="M161.57,373.4 V376.9" stroke="#999999" stroke-width="1"/>
<text x="161.57" y="383.8" font-size="6.4" text-anchor="middle" fill="#111111">3</text>
<path d="M172.11,373.4 V376.9" stroke="#999999" stroke-width="1"/>
<text x="172.11" y="383.8" font-size="6.4" text-anchor="middle" fill="#111111">4</text>
<path d="M180.29,373.4 V376.9" stroke="#999999" stroke-width="1"/>
<text x="180.29" y="383.8" font-size="6.4" text-anchor="middle" fill="#111111">5</text>
<path d="M186.98,373.4 V376.9" stroke="#999999" stroke-width="1"/>
<text x="186.98" y="383.8" font-size="6.4" text-anchor="middle" fill="#111111">6</text>
<text x="110.94" y="401.5" font-size="9.2" text-anchor="middle" fill="#111111">OA (μg m<tspan dy="-3.6" font-size="6.3">−3</tspan><tspan dy="3.6">)</tspan></text>
<text transform="translate(8.3,301) rotate(-90)" font-size="9.2" text-anchor="middle" fill="#111111">Relative contribution</text>
<text transform="translate(212,301) rotate(90)" font-size="9.2" text-anchor="middle" fill="#111111">-- number of days</text>
<text x="0.2" y="231.6" font-size="12.5" font-weight="bold" fill="#000">b</text>
<path d="M278,229 L305.3,229 L321.8,229 L333.3,229 L349.4,229 L369.7,229 L387,229 L399.6,229 L399.6,372 L387,372 L369.7,372 L349.4,372 L333.3,372 L321.8,372 L305.3,372 L278,372Z" fill="#8c8c8c"/>
<path d="M278,231.5 L305.3,233.6 L321.8,233.9 L333.3,234.3 L349.4,234.3 L369.7,233 L387,232.8 L399.6,235.2 L399.6,372 L387,372 L369.7,372 L349.4,372 L333.3,372 L321.8,372 L305.3,372 L278,372Z" fill="#80a0fa"/>
<path d="M278,242.6 L305.3,244.5 L321.8,242.6 L333.3,241.3 L349.4,240.2 L369.7,238.4 L387,236.5 L399.6,238.9 L399.6,372 L387,372 L369.7,372 L349.4,372 L333.3,372 L321.8,372 L305.3,372 L278,372Z" fill="#993300"/>
<path d="M278,266.8 L305.3,281.2 L321.8,272.5 L333.3,266.2 L349.4,268.1 L369.7,260.6 L387,254.7 L399.6,241.7 L399.6,372 L387,372 L369.7,372 L349.4,372 L333.3,372 L321.8,372 L305.3,372 L278,372Z" fill="#996300"/>
<path d="M278,267.3 L305.3,282.6 L321.8,275.5 L333.3,270.5 L349.4,272.3 L369.7,263 L387,259.3 L399.6,246.3 L399.6,372 L387,372 L369.7,372 L349.4,372 L333.3,372 L321.8,372 L305.3,372 L278,372Z" fill="#ffcf80"/>
<path d="M278,276.1 L305.3,286.6 L321.8,280.6 L333.3,276 L349.4,278.8 L369.7,275.5 L387,276 L399.6,259.3 L399.6,372 L387,372 L369.7,372 L349.4,372 L333.3,372 L321.8,372 L305.3,372 L278,372Z" fill="#0000f5"/>
<path d="M278,277.9 L305.3,290.2 L321.8,286 L333.3,282.5 L349.4,288.1 L369.7,288.1 L387,298.3 L399.6,275.1 L399.6,372 L387,372 L369.7,372 L349.4,372 L333.3,372 L321.8,372 L305.3,372 L278,372Z" fill="#a875e3"/>
<path d="M278,298 L305.3,305.8 L321.8,302.6 L333.3,309.4 L349.4,303.7 L369.7,296.7 L387,329 L399.6,312.1 L399.6,372 L387,372 L369.7,372 L349.4,372 L333.3,372 L321.8,372 L305.3,372 L278,372Z" fill="#ff80e6"/>
<path d="M278,333.7 L305.3,326.2 L321.8,336.2 L333.3,336.8 L349.4,344.3 L369.7,350 L387,354.3 L399.6,365.4 L399.6,372 L387,372 L369.7,372 L349.4,372 L333.3,372 L321.8,372 L305.3,372 L278,372Z" fill="#008c00"/>
<path d="M278,341.5 L305.3,341.5 L321.8,347.8 L333.3,350 L349.4,354.3 L369.7,357.8 L387,363.7 L399.6,366.3 L399.6,372 L387,372 L369.7,372 L349.4,372 L333.3,372 L321.8,372 L305.3,372 L278,372Z" fill="#80fb80"/>
<path d="M277.7,314 L305.3,348.5 L321.8,241.1 L333.3,285.2 L349.4,279.5 L369.7,343.7 L387,349 L399.6,360.6" fill="none" stroke="#fff" stroke-width="2" stroke-linejoin="round"/>
<path d="M277.7,314 L305.3,348.5 L321.8,241.1 L333.3,285.2 L349.4,279.5 L369.7,343.7 L387,349 L399.6,360.6" fill="none" stroke="#000" stroke-width="2" stroke-dasharray="3.4,2.5" stroke-linejoin="round"/>
<path d="M267.6,229 V373.4 H418.8" fill="none" stroke="#999999" stroke-width="1"/>
<path d="M418.8,229 V373.4" fill="none" stroke="#999999" stroke-width="1"/>
<path d="M261.8,372 H267.6" stroke="#999999" stroke-width="1"/>
<path d="M418.8,372 H424.3" stroke="#999999" stroke-width="1"/>
<text x="257.2" y="374.8" font-size="8.3" text-anchor="end" fill="#111111">0</text>
<text x="428.5" y="374.8" font-size="8.3" fill="#111111">0</text>
<path d="M261.8,343.4 H267.6" stroke="#999999" stroke-width="1"/>
<path d="M418.8,343.4 H424.3" stroke="#999999" stroke-width="1"/>
<text x="257.2" y="346.2" font-size="8.3" text-anchor="end" fill="#111111">0.2</text>
<text x="428.5" y="346.2" font-size="8.3" fill="#111111">5</text>
<path d="M261.8,314.8 H267.6" stroke="#999999" stroke-width="1"/>
<path d="M418.8,314.8 H424.3" stroke="#999999" stroke-width="1"/>
<text x="257.2" y="317.6" font-size="8.3" text-anchor="end" fill="#111111">0.4</text>
<text x="428.5" y="317.6" font-size="8.3" fill="#111111">10</text>
<path d="M261.8,286.2 H267.6" stroke="#999999" stroke-width="1"/>
<path d="M418.8,286.2 H424.3" stroke="#999999" stroke-width="1"/>
<text x="257.2" y="289" font-size="8.3" text-anchor="end" fill="#111111">0.6</text>
<text x="428.5" y="289" font-size="8.3" fill="#111111">15</text>
<path d="M261.8,257.6 H267.6" stroke="#999999" stroke-width="1"/>
<path d="M418.8,257.6 H424.3" stroke="#999999" stroke-width="1"/>
<text x="257.2" y="260.4" font-size="8.3" text-anchor="end" fill="#111111">0.8</text>
<text x="428.5" y="260.4" font-size="8.3" fill="#111111">20</text>
<path d="M261.8,229 H267.6" stroke="#999999" stroke-width="1"/>
<path d="M418.8,229 H424.3" stroke="#999999" stroke-width="1"/>
<text x="257.2" y="231.8" font-size="8.3" text-anchor="end" fill="#111111">1.0</text>
<text x="428.5" y="231.8" font-size="8.3" fill="#111111">25</text>
<path d="M269.2,373.4 V379.7" stroke="#999999" stroke-width="1"/>
<text x="269.2" y="388.6" font-size="8.4" text-anchor="middle" fill="#111111">1</text>
<path d="M294.58,373.4 V376.9" stroke="#999999" stroke-width="1"/>
<text x="294.58" y="383.8" font-size="6.4" text-anchor="middle" fill="#111111">2</text>
<path d="M309.42,373.4 V376.9" stroke="#999999" stroke-width="1"/>
<text x="309.42" y="383.8" font-size="6.4" text-anchor="middle" fill="#111111">3</text>
<path d="M319.95,373.4 V376.9" stroke="#999999" stroke-width="1"/>
<text x="319.95" y="383.8" font-size="6.4" text-anchor="middle" fill="#111111">4</text>
<path d="M328.12,373.4 V376.9" stroke="#999999" stroke-width="1"/>
<text x="328.12" y="383.8" font-size="6.4" text-anchor="middle" fill="#111111">5</text>
<path d="M334.8,373.4 V376.9" stroke="#999999" stroke-width="1"/>
<text x="334.8" y="383.8" font-size="6.4" text-anchor="middle" fill="#111111">6</text>
<path d="M340.44,373.4 V376.9" stroke="#999999" stroke-width="1"/>
<text x="340.44" y="383.8" font-size="6.4" text-anchor="middle" fill="#111111">7</text>
<path d="M345.33,373.4 V376.9" stroke="#999999" stroke-width="1"/>
<text x="345.33" y="383.8" font-size="6.4" text-anchor="middle" fill="#111111">8</text>
<path d="M349.64,373.4 V376.9" stroke="#999999" stroke-width="1"/>
<path d="M353.5,373.4 V379.7" stroke="#999999" stroke-width="1"/>
<text x="353.5" y="388.6" font-size="8.4" text-anchor="middle" fill="#111111">10</text>
<path d="M378.88,373.4 V376.9" stroke="#999999" stroke-width="1"/>
<text x="378.88" y="383.8" font-size="6.4" text-anchor="middle" fill="#111111">2</text>
<path d="M393.72,373.4 V376.9" stroke="#999999" stroke-width="1"/>
<text x="393.72" y="383.8" font-size="6.4" text-anchor="middle" fill="#111111">3</text>
<path d="M404.25,373.4 V376.9" stroke="#999999" stroke-width="1"/>
<text x="404.25" y="383.8" font-size="6.4" text-anchor="middle" fill="#111111">4</text>
<path d="M412.42,373.4 V376.9" stroke="#999999" stroke-width="1"/>
<text x="412.42" y="383.8" font-size="6.4" text-anchor="middle" fill="#111111">5</text>
<path d="M419.1,373.4 V376.9" stroke="#999999" stroke-width="1"/>
<text x="419.1" y="383.8" font-size="6.4" text-anchor="middle" fill="#111111">6</text>
<text x="343.15" y="401.5" font-size="9.2" text-anchor="middle" fill="#111111">OA (μg m<tspan dy="-3.6" font-size="6.3">−3</tspan><tspan dy="3.6">)</tspan></text>
<text transform="translate(240,301) rotate(-90)" font-size="9.2" text-anchor="middle" fill="#111111">Relative contribution</text>
<text transform="translate(444.3,301) rotate(90)" font-size="9.2" text-anchor="middle" fill="#111111">-- number of days</text>
<text x="231.5" y="231.6" font-size="12.5" font-weight="bold" fill="#000">c</text>
<path d="M523.3,229 L534.2,229 L559.1,229 L570.6,229 L587.1,229 L603.9,229 L620.9,229 L620.9,372 L603.9,372 L587.1,372 L570.6,372 L559.1,372 L534.2,372 L523.3,372Z" fill="#8c8c8c"/>
<path d="M523.3,233.4 L534.2,233.9 L559.1,232.8 L570.6,232.7 L587.1,231.8 L603.9,230.9 L620.9,232.7 L620.9,372 L603.9,372 L587.1,372 L570.6,372 L559.1,372 L534.2,372 L523.3,372Z" fill="#80a0fa"/>
<path d="M523.3,253.2 L534.2,252.9 L559.1,244.1 L570.6,243.3 L587.1,238 L603.9,234.9 L620.9,238.4 L620.9,372 L603.9,372 L587.1,372 L570.6,372 L559.1,372 L534.2,372 L523.3,372Z" fill="#993300"/>
<path d="M523.3,260.7 L534.2,259 L559.1,250.1 L570.6,247.9 L587.1,241.1 L603.9,238.4 L620.9,248.5 L620.9,372 L603.9,372 L587.1,372 L570.6,372 L559.1,372 L534.2,372 L523.3,372Z" fill="#996300"/>
<path d="M523.3,261.8 L534.2,260.5 L559.1,251.5 L570.6,248.5 L587.1,241.7 L603.9,238.9 L620.9,249.7 L620.9,372 L603.9,372 L587.1,372 L570.6,372 L559.1,372 L534.2,372 L523.3,372Z" fill="#ffcf80"/>
<path d="M523.3,267.4 L534.2,264.4 L559.1,255.7 L570.6,251.6 L587.1,245.4 L603.9,241.7 L620.9,250.4 L620.9,372 L603.9,372 L587.1,372 L570.6,372 L559.1,372 L534.2,372 L523.3,372Z" fill="#0000f5"/>
<path d="M523.3,268.7 L534.2,265.9 L559.1,257.5 L570.6,255.9 L587.1,247.3 L603.9,243.3 L620.9,255.3 L620.9,372 L603.9,372 L587.1,372 L570.6,372 L559.1,372 L534.2,372 L523.3,372Z" fill="#a875e3"/>
<path d="M523.3,306.2 L534.2,299.5 L559.1,305.1 L570.6,307.3 L587.1,312.9 L603.9,325.2 L620.9,304.6 L620.9,372 L603.9,372 L587.1,372 L570.6,372 L559.1,372 L534.2,372 L523.3,372Z" fill="#ff80e6"/>
<path d="M523.3,314 L534.2,306.2 L559.1,318.5 L570.6,330.7 L587.1,337.4 L603.9,345.2 L620.9,327.8 L620.9,372 L603.9,372 L587.1,372 L570.6,372 L559.1,372 L534.2,372 L523.3,372Z" fill="#008c00"/>
<path d="M523.3,334.1 L534.2,335.2 L559.1,344.1 L570.6,351.4 L587.1,357.5 L603.9,362.6 L620.9,355.9 L620.9,372 L603.9,372 L587.1,372 L570.6,372 L559.1,372 L534.2,372 L523.3,372Z" fill="#80fb80"/>
<path d="M523.4,337.7 L534.2,336.9 L559.1,320.4 L570.6,287 L587.1,297.5 L603.9,343.8 L620.9,365.7" fill="none" stroke="#fff" stroke-width="2" stroke-linejoin="round"/>
<path d="M523.4,337.7 L534.2,336.9 L559.1,320.4 L570.6,287 L587.1,297.5 L603.9,343.8 L620.9,365.7" fill="none" stroke="#000" stroke-width="2" stroke-dasharray="3.4,2.5" stroke-linejoin="round"/>
<path d="M501.7,229 V373.4 H652.8" fill="none" stroke="#999999" stroke-width="1"/>
<path d="M652.8,229 V373.4" fill="none" stroke="#999999" stroke-width="1"/>
<path d="M495.9,372 H501.7" stroke="#999999" stroke-width="1"/>
<path d="M652.8,372 H658.3" stroke="#999999" stroke-width="1"/>
<text x="491.3" y="374.8" font-size="8.3" text-anchor="end" fill="#111111">0</text>
<text x="662.5" y="374.8" font-size="8.3" fill="#111111">0</text>
<path d="M495.9,343.4 H501.7" stroke="#999999" stroke-width="1"/>
<path d="M652.8,343.4 H658.3" stroke="#999999" stroke-width="1"/>
<text x="491.3" y="346.2" font-size="8.3" text-anchor="end" fill="#111111">0.2</text>
<text x="662.5" y="346.2" font-size="8.3" fill="#111111">5</text>
<path d="M495.9,314.8 H501.7" stroke="#999999" stroke-width="1"/>
<path d="M652.8,314.8 H658.3" stroke="#999999" stroke-width="1"/>
<text x="491.3" y="317.6" font-size="8.3" text-anchor="end" fill="#111111">0.4</text>
<text x="662.5" y="317.6" font-size="8.3" fill="#111111">10</text>
<path d="M495.9,286.2 H501.7" stroke="#999999" stroke-width="1"/>
<path d="M652.8,286.2 H658.3" stroke="#999999" stroke-width="1"/>
<text x="491.3" y="289" font-size="8.3" text-anchor="end" fill="#111111">0.6</text>
<text x="662.5" y="289" font-size="8.3" fill="#111111">15</text>
<path d="M495.9,257.6 H501.7" stroke="#999999" stroke-width="1"/>
<path d="M652.8,257.6 H658.3" stroke="#999999" stroke-width="1"/>
<text x="491.3" y="260.4" font-size="8.3" text-anchor="end" fill="#111111">0.8</text>
<text x="662.5" y="260.4" font-size="8.3" fill="#111111">20</text>
<path d="M495.9,229 H501.7" stroke="#999999" stroke-width="1"/>
<path d="M652.8,229 H658.3" stroke="#999999" stroke-width="1"/>
<text x="491.3" y="231.8" font-size="8.3" text-anchor="end" fill="#111111">1.0</text>
<text x="662.5" y="231.8" font-size="8.3" fill="#111111">25</text>
<path d="M503.4,373.4 V379.7" stroke="#999999" stroke-width="1"/>
<text x="503.4" y="388.6" font-size="8.4" text-anchor="middle" fill="#111111">1</text>
<path d="M528.69,373.4 V376.9" stroke="#999999" stroke-width="1"/>
<text x="528.69" y="383.8" font-size="6.4" text-anchor="middle" fill="#111111">2</text>
<path d="M543.48,373.4 V376.9" stroke="#999999" stroke-width="1"/>
<text x="543.48" y="383.8" font-size="6.4" text-anchor="middle" fill="#111111">3</text>
<path d="M553.97,373.4 V376.9" stroke="#999999" stroke-width="1"/>
<text x="553.97" y="383.8" font-size="6.4" text-anchor="middle" fill="#111111">4</text>
<path d="M562.11,373.4 V376.9" stroke="#999999" stroke-width="1"/>
<text x="562.11" y="383.8" font-size="6.4" text-anchor="middle" fill="#111111">5</text>
<path d="M568.76,373.4 V376.9" stroke="#999999" stroke-width="1"/>
<text x="568.76" y="383.8" font-size="6.4" text-anchor="middle" fill="#111111">6</text>
<path d="M574.39,373.4 V376.9" stroke="#999999" stroke-width="1"/>
<text x="574.39" y="383.8" font-size="6.4" text-anchor="middle" fill="#111111">7</text>
<path d="M579.26,373.4 V376.9" stroke="#999999" stroke-width="1"/>
<text x="579.26" y="383.8" font-size="6.4" text-anchor="middle" fill="#111111">8</text>
<path d="M583.56,373.4 V376.9" stroke="#999999" stroke-width="1"/>
<path d="M587.4,373.4 V379.7" stroke="#999999" stroke-width="1"/>
<text x="587.4" y="388.6" font-size="8.4" text-anchor="middle" fill="#111111">10</text>
<path d="M612.69,373.4 V376.9" stroke="#999999" stroke-width="1"/>
<text x="612.69" y="383.8" font-size="6.4" text-anchor="middle" fill="#111111">2</text>
<path d="M627.48,373.4 V376.9" stroke="#999999" stroke-width="1"/>
<text x="627.48" y="383.8" font-size="6.4" text-anchor="middle" fill="#111111">3</text>
<path d="M637.97,373.4 V376.9" stroke="#999999" stroke-width="1"/>
<text x="637.97" y="383.8" font-size="6.4" text-anchor="middle" fill="#111111">4</text>
<path d="M646.11,373.4 V376.9" stroke="#999999" stroke-width="1"/>
<text x="646.11" y="383.8" font-size="6.4" text-anchor="middle" fill="#111111">5</text>
<path d="M652.76,373.4 V376.9" stroke="#999999" stroke-width="1"/>
<text x="652.76" y="383.8" font-size="6.4" text-anchor="middle" fill="#111111">6</text>
<text x="577.08" y="401.5" font-size="9.2" text-anchor="middle" fill="#111111">OA (μg m<tspan dy="-3.6" font-size="6.3">−3</tspan><tspan dy="3.6">)</tspan></text>
<text transform="translate(474,301) rotate(-90)" font-size="9.2" text-anchor="middle" fill="#111111">Relative contribution</text>
<text transform="translate(678.5,301) rotate(90)" font-size="9.2" text-anchor="middle" fill="#111111">-- number of days</text>
<text x="466.3" y="231.6" font-size="12.5" font-weight="bold" fill="#000">d</text>
</svg>
</body></html>
